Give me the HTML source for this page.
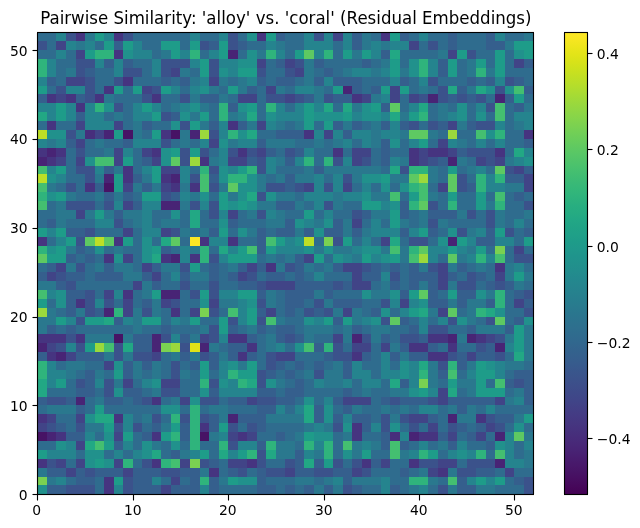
<!DOCTYPE html>
<html><head><meta charset="utf-8"><title>Pairwise Similarity: 'alloy' vs. 'coral' (Residual Embeddings)</title>
<style>
html,body{margin:0;padding:0;background:#fff;}
body{width:640px;height:528px;overflow:hidden;}
svg{display:block;}
text{font-family:'DejaVu Sans','Liberation Sans',sans-serif;font-size:13.889px;fill:#000;}
</style></head><body>
<svg width="640" height="528" viewBox="0 0 640 528" style="will-change:transform">
<defs><linearGradient id="vir" x1="0" y1="1" x2="0" y2="0"><stop offset="0.0000" stop-color="#440154"/><stop offset="0.0156" stop-color="#46075a"/><stop offset="0.0312" stop-color="#470d60"/><stop offset="0.0469" stop-color="#471365"/><stop offset="0.0625" stop-color="#48186a"/><stop offset="0.0781" stop-color="#481d6f"/><stop offset="0.0938" stop-color="#482374"/><stop offset="0.1094" stop-color="#482878"/><stop offset="0.1250" stop-color="#472d7b"/><stop offset="0.1406" stop-color="#46327e"/><stop offset="0.1562" stop-color="#453781"/><stop offset="0.1719" stop-color="#443b84"/><stop offset="0.1875" stop-color="#424086"/><stop offset="0.2031" stop-color="#404588"/><stop offset="0.2188" stop-color="#3e4989"/><stop offset="0.2344" stop-color="#3d4e8a"/><stop offset="0.2500" stop-color="#3b528b"/><stop offset="0.2656" stop-color="#39568c"/><stop offset="0.2812" stop-color="#375b8d"/><stop offset="0.2969" stop-color="#355f8d"/><stop offset="0.3125" stop-color="#33638d"/><stop offset="0.3281" stop-color="#31678e"/><stop offset="0.3438" stop-color="#2f6b8e"/><stop offset="0.3594" stop-color="#2e6f8e"/><stop offset="0.3750" stop-color="#2c728e"/><stop offset="0.3906" stop-color="#2a768e"/><stop offset="0.4062" stop-color="#297a8e"/><stop offset="0.4219" stop-color="#277e8e"/><stop offset="0.4375" stop-color="#26828e"/><stop offset="0.4531" stop-color="#25858e"/><stop offset="0.4688" stop-color="#23898e"/><stop offset="0.4844" stop-color="#228d8d"/><stop offset="0.5000" stop-color="#21918c"/><stop offset="0.5156" stop-color="#1f948c"/><stop offset="0.5312" stop-color="#1f988b"/><stop offset="0.5469" stop-color="#1e9c89"/><stop offset="0.5625" stop-color="#1fa088"/><stop offset="0.5781" stop-color="#20a386"/><stop offset="0.5938" stop-color="#22a785"/><stop offset="0.6094" stop-color="#25ab82"/><stop offset="0.6250" stop-color="#28ae80"/><stop offset="0.6406" stop-color="#2db27d"/><stop offset="0.6562" stop-color="#32b67a"/><stop offset="0.6719" stop-color="#38b977"/><stop offset="0.6875" stop-color="#3fbc73"/><stop offset="0.7031" stop-color="#46c06f"/><stop offset="0.7188" stop-color="#4ec36b"/><stop offset="0.7344" stop-color="#56c667"/><stop offset="0.7500" stop-color="#5ec962"/><stop offset="0.7656" stop-color="#67cc5c"/><stop offset="0.7812" stop-color="#70cf57"/><stop offset="0.7969" stop-color="#7ad151"/><stop offset="0.8125" stop-color="#84d44b"/><stop offset="0.8281" stop-color="#8ed645"/><stop offset="0.8438" stop-color="#98d83e"/><stop offset="0.8594" stop-color="#a2da37"/><stop offset="0.8750" stop-color="#addc30"/><stop offset="0.8906" stop-color="#b8de29"/><stop offset="0.9062" stop-color="#c2df23"/><stop offset="0.9219" stop-color="#cde11d"/><stop offset="0.9375" stop-color="#d8e219"/><stop offset="0.9531" stop-color="#e2e418"/><stop offset="0.9688" stop-color="#ece51b"/><stop offset="0.9844" stop-color="#f6e620"/><stop offset="1.0000" stop-color="#fde725"/></linearGradient></defs>
<rect x="0" y="0" width="640" height="528" fill="#fff"/>
<g shape-rendering="crispEdges">
<rect x="38" y="33" width="18" height="8" fill="#2f6c8e"/>
<rect x="56" y="33" width="10" height="8" fill="#25848e"/>
<rect x="66" y="33" width="10" height="8" fill="#3b528b"/>
<rect x="76" y="33" width="9" height="8" fill="#463480"/>
<rect x="85" y="33" width="10" height="8" fill="#2a788e"/>
<rect x="95" y="33" width="9" height="8" fill="#1e9c89"/>
<rect x="104" y="33" width="10" height="8" fill="#25848e"/>
<rect x="114" y="33" width="9" height="8" fill="#463480"/>
<rect x="123" y="33" width="10" height="8" fill="#3b528b"/>
<rect x="133" y="33" width="57" height="8" fill="#2f6c8e"/>
<rect x="190" y="33" width="10" height="8" fill="#25848e"/>
<rect x="200" y="33" width="19" height="8" fill="#2f6c8e"/>
<rect x="219" y="33" width="9" height="8" fill="#25848e"/>
<rect x="228" y="33" width="10" height="8" fill="#3b528b"/>
<rect x="238" y="33" width="9" height="8" fill="#2f6c8e"/>
<rect x="247" y="33" width="10" height="8" fill="#21918c"/>
<rect x="257" y="33" width="9" height="8" fill="#463480"/>
<rect x="266" y="33" width="10" height="8" fill="#1e9c89"/>
<rect x="276" y="33" width="9" height="8" fill="#355f8d"/>
<rect x="285" y="33" width="19" height="8" fill="#2f6c8e"/>
<rect x="304" y="33" width="10" height="8" fill="#25848e"/>
<rect x="314" y="33" width="10" height="8" fill="#3b528b"/>
<rect x="324" y="33" width="9" height="8" fill="#25848e"/>
<rect x="333" y="33" width="10" height="8" fill="#414487"/>
<rect x="343" y="33" width="9" height="8" fill="#25848e"/>
<rect x="352" y="33" width="10" height="8" fill="#355f8d"/>
<rect x="362" y="33" width="9" height="8" fill="#2a788e"/>
<rect x="371" y="33" width="10" height="8" fill="#2f6c8e"/>
<rect x="381" y="33" width="9" height="8" fill="#463480"/>
<rect x="390" y="33" width="10" height="8" fill="#1e9c89"/>
<rect x="400" y="33" width="9" height="8" fill="#355f8d"/>
<rect x="409" y="33" width="10" height="8" fill="#2f6c8e"/>
<rect x="419" y="33" width="9" height="8" fill="#25848e"/>
<rect x="428" y="33" width="20" height="8" fill="#2f6c8e"/>
<rect x="448" y="33" width="9" height="8" fill="#355f8d"/>
<rect x="457" y="33" width="29" height="8" fill="#2f6c8e"/>
<rect x="486" y="33" width="9" height="8" fill="#355f8d"/>
<rect x="495" y="33" width="10" height="8" fill="#25848e"/>
<rect x="505" y="33" width="19" height="8" fill="#2f6c8e"/>
<rect x="524" y="33" width="9" height="8" fill="#2a788e"/>
<rect x="38" y="41" width="9" height="9" fill="#3b528b"/>
<rect x="47" y="41" width="9" height="9" fill="#2f6c8e"/>
<rect x="56" y="41" width="10" height="9" fill="#414487"/>
<rect x="66" y="41" width="10" height="9" fill="#25848e"/>
<rect x="76" y="41" width="9" height="9" fill="#2a788e"/>
<rect x="85" y="41" width="10" height="9" fill="#25848e"/>
<rect x="95" y="41" width="9" height="9" fill="#2f6c8e"/>
<rect x="104" y="41" width="10" height="9" fill="#1e9c89"/>
<rect x="114" y="41" width="9" height="9" fill="#355f8d"/>
<rect x="123" y="41" width="10" height="9" fill="#1e9c89"/>
<rect x="133" y="41" width="9" height="9" fill="#25848e"/>
<rect x="142" y="41" width="19" height="9" fill="#2f6c8e"/>
<rect x="161" y="41" width="19" height="9" fill="#1e9c89"/>
<rect x="180" y="41" width="10" height="9" fill="#2f6c8e"/>
<rect x="190" y="41" width="10" height="9" fill="#1e9c89"/>
<rect x="200" y="41" width="9" height="9" fill="#3b528b"/>
<rect x="209" y="41" width="10" height="9" fill="#355f8d"/>
<rect x="219" y="41" width="9" height="9" fill="#1e9c89"/>
<rect x="228" y="41" width="10" height="9" fill="#3b528b"/>
<rect x="238" y="41" width="9" height="9" fill="#355f8d"/>
<rect x="247" y="41" width="19" height="9" fill="#2f6c8e"/>
<rect x="266" y="41" width="10" height="9" fill="#25848e"/>
<rect x="276" y="41" width="9" height="9" fill="#2a788e"/>
<rect x="285" y="41" width="19" height="9" fill="#2f6c8e"/>
<rect x="304" y="41" width="29" height="9" fill="#25848e"/>
<rect x="333" y="41" width="10" height="9" fill="#2f6c8e"/>
<rect x="343" y="41" width="9" height="9" fill="#25848e"/>
<rect x="352" y="41" width="10" height="9" fill="#355f8d"/>
<rect x="362" y="41" width="9" height="9" fill="#2a788e"/>
<rect x="371" y="41" width="10" height="9" fill="#25848e"/>
<rect x="381" y="41" width="9" height="9" fill="#2a788e"/>
<rect x="390" y="41" width="19" height="9" fill="#25848e"/>
<rect x="409" y="41" width="10" height="9" fill="#414487"/>
<rect x="419" y="41" width="9" height="9" fill="#2f6c8e"/>
<rect x="428" y="41" width="10" height="9" fill="#3b528b"/>
<rect x="438" y="41" width="10" height="9" fill="#2f6c8e"/>
<rect x="448" y="41" width="9" height="9" fill="#355f8d"/>
<rect x="457" y="41" width="29" height="9" fill="#2f6c8e"/>
<rect x="486" y="41" width="19" height="9" fill="#355f8d"/>
<rect x="505" y="41" width="9" height="9" fill="#2a788e"/>
<rect x="514" y="41" width="19" height="9" fill="#1e9c89"/>
<rect x="38" y="50" width="18" height="9" fill="#2f6c8e"/>
<rect x="56" y="50" width="10" height="9" fill="#25848e"/>
<rect x="66" y="50" width="10" height="9" fill="#2f6c8e"/>
<rect x="76" y="50" width="9" height="9" fill="#414487"/>
<rect x="85" y="50" width="10" height="9" fill="#1e9c89"/>
<rect x="95" y="50" width="19" height="9" fill="#2fb47c"/>
<rect x="114" y="50" width="9" height="9" fill="#463480"/>
<rect x="123" y="50" width="10" height="9" fill="#21918c"/>
<rect x="133" y="50" width="19" height="9" fill="#25848e"/>
<rect x="152" y="50" width="9" height="9" fill="#2f6c8e"/>
<rect x="161" y="50" width="10" height="9" fill="#2a788e"/>
<rect x="171" y="50" width="9" height="9" fill="#1e9c89"/>
<rect x="180" y="50" width="10" height="9" fill="#25848e"/>
<rect x="190" y="50" width="10" height="9" fill="#2fb47c"/>
<rect x="200" y="50" width="9" height="9" fill="#2f6c8e"/>
<rect x="209" y="50" width="10" height="9" fill="#25848e"/>
<rect x="219" y="50" width="9" height="9" fill="#1e9c89"/>
<rect x="228" y="50" width="10" height="9" fill="#482475"/>
<rect x="238" y="50" width="9" height="9" fill="#2f6c8e"/>
<rect x="247" y="50" width="10" height="9" fill="#21918c"/>
<rect x="257" y="50" width="9" height="9" fill="#2a788e"/>
<rect x="266" y="50" width="10" height="9" fill="#2fb47c"/>
<rect x="276" y="50" width="9" height="9" fill="#25848e"/>
<rect x="285" y="50" width="10" height="9" fill="#2f6c8e"/>
<rect x="295" y="50" width="9" height="9" fill="#1e9c89"/>
<rect x="304" y="50" width="10" height="9" fill="#5ec962"/>
<rect x="314" y="50" width="10" height="9" fill="#25848e"/>
<rect x="324" y="50" width="9" height="9" fill="#2fb47c"/>
<rect x="333" y="50" width="10" height="9" fill="#2f6c8e"/>
<rect x="343" y="50" width="9" height="9" fill="#1e9c89"/>
<rect x="352" y="50" width="10" height="9" fill="#2a788e"/>
<rect x="362" y="50" width="9" height="9" fill="#1e9c89"/>
<rect x="371" y="50" width="10" height="9" fill="#25848e"/>
<rect x="381" y="50" width="9" height="9" fill="#355f8d"/>
<rect x="390" y="50" width="10" height="9" fill="#22a884"/>
<rect x="400" y="50" width="38" height="9" fill="#2f6c8e"/>
<rect x="438" y="50" width="10" height="9" fill="#2a788e"/>
<rect x="448" y="50" width="9" height="9" fill="#414487"/>
<rect x="457" y="50" width="10" height="9" fill="#1e9c89"/>
<rect x="467" y="50" width="9" height="9" fill="#3b528b"/>
<rect x="476" y="50" width="19" height="9" fill="#2f6c8e"/>
<rect x="495" y="50" width="10" height="9" fill="#1e9c89"/>
<rect x="505" y="50" width="9" height="9" fill="#2f6c8e"/>
<rect x="514" y="50" width="10" height="9" fill="#21918c"/>
<rect x="524" y="50" width="9" height="9" fill="#1e9c89"/>
<rect x="38" y="59" width="9" height="9" fill="#2fb47c"/>
<rect x="47" y="59" width="9" height="9" fill="#25848e"/>
<rect x="56" y="59" width="20" height="9" fill="#2f6c8e"/>
<rect x="76" y="59" width="19" height="9" fill="#3b528b"/>
<rect x="95" y="59" width="9" height="9" fill="#25848e"/>
<rect x="104" y="59" width="10" height="9" fill="#355f8d"/>
<rect x="114" y="59" width="9" height="9" fill="#25848e"/>
<rect x="123" y="59" width="10" height="9" fill="#355f8d"/>
<rect x="133" y="59" width="19" height="9" fill="#2f6c8e"/>
<rect x="152" y="59" width="9" height="9" fill="#25848e"/>
<rect x="161" y="59" width="29" height="9" fill="#3b528b"/>
<rect x="190" y="59" width="10" height="9" fill="#25848e"/>
<rect x="200" y="59" width="9" height="9" fill="#1e9c89"/>
<rect x="209" y="59" width="10" height="9" fill="#3b528b"/>
<rect x="219" y="59" width="19" height="9" fill="#25848e"/>
<rect x="238" y="59" width="19" height="9" fill="#21918c"/>
<rect x="257" y="59" width="9" height="9" fill="#414487"/>
<rect x="266" y="59" width="10" height="9" fill="#2f6c8e"/>
<rect x="276" y="59" width="9" height="9" fill="#355f8d"/>
<rect x="285" y="59" width="10" height="9" fill="#414487"/>
<rect x="295" y="59" width="9" height="9" fill="#3b528b"/>
<rect x="304" y="59" width="10" height="9" fill="#2a788e"/>
<rect x="314" y="59" width="10" height="9" fill="#355f8d"/>
<rect x="324" y="59" width="38" height="9" fill="#2f6c8e"/>
<rect x="362" y="59" width="9" height="9" fill="#355f8d"/>
<rect x="371" y="59" width="10" height="9" fill="#2f6c8e"/>
<rect x="381" y="59" width="9" height="9" fill="#2a788e"/>
<rect x="390" y="59" width="10" height="9" fill="#1e9c89"/>
<rect x="400" y="59" width="9" height="9" fill="#2f6c8e"/>
<rect x="409" y="59" width="10" height="9" fill="#21918c"/>
<rect x="419" y="59" width="9" height="9" fill="#2fb47c"/>
<rect x="428" y="59" width="10" height="9" fill="#25848e"/>
<rect x="438" y="59" width="10" height="9" fill="#355f8d"/>
<rect x="448" y="59" width="9" height="9" fill="#1e9c89"/>
<rect x="457" y="59" width="10" height="9" fill="#2f6c8e"/>
<rect x="467" y="59" width="9" height="9" fill="#2a788e"/>
<rect x="476" y="59" width="10" height="9" fill="#1e9c89"/>
<rect x="486" y="59" width="9" height="9" fill="#2f6c8e"/>
<rect x="495" y="59" width="10" height="9" fill="#1e9c89"/>
<rect x="505" y="59" width="9" height="9" fill="#2f6c8e"/>
<rect x="514" y="59" width="10" height="9" fill="#414487"/>
<rect x="524" y="59" width="9" height="9" fill="#355f8d"/>
<rect x="38" y="68" width="9" height="9" fill="#2fb47c"/>
<rect x="47" y="68" width="9" height="9" fill="#25848e"/>
<rect x="56" y="68" width="10" height="9" fill="#2f6c8e"/>
<rect x="66" y="68" width="10" height="9" fill="#2a788e"/>
<rect x="76" y="68" width="9" height="9" fill="#3b528b"/>
<rect x="85" y="68" width="10" height="9" fill="#355f8d"/>
<rect x="95" y="68" width="19" height="9" fill="#2f6c8e"/>
<rect x="114" y="68" width="9" height="9" fill="#25848e"/>
<rect x="123" y="68" width="19" height="9" fill="#3b528b"/>
<rect x="142" y="68" width="10" height="9" fill="#2f6c8e"/>
<rect x="152" y="68" width="9" height="9" fill="#25848e"/>
<rect x="161" y="68" width="10" height="9" fill="#3b528b"/>
<rect x="171" y="68" width="9" height="9" fill="#414487"/>
<rect x="180" y="68" width="10" height="9" fill="#2a788e"/>
<rect x="190" y="68" width="10" height="9" fill="#2f6c8e"/>
<rect x="200" y="68" width="9" height="9" fill="#1e9c89"/>
<rect x="209" y="68" width="10" height="9" fill="#3b528b"/>
<rect x="219" y="68" width="9" height="9" fill="#21918c"/>
<rect x="228" y="68" width="10" height="9" fill="#25848e"/>
<rect x="238" y="68" width="19" height="9" fill="#1e9c89"/>
<rect x="257" y="68" width="9" height="9" fill="#3b528b"/>
<rect x="266" y="68" width="19" height="9" fill="#2f6c8e"/>
<rect x="285" y="68" width="10" height="9" fill="#3b528b"/>
<rect x="295" y="68" width="9" height="9" fill="#414487"/>
<rect x="304" y="68" width="10" height="9" fill="#2a788e"/>
<rect x="314" y="68" width="10" height="9" fill="#2f6c8e"/>
<rect x="324" y="68" width="9" height="9" fill="#355f8d"/>
<rect x="333" y="68" width="10" height="9" fill="#2f6c8e"/>
<rect x="343" y="68" width="9" height="9" fill="#2a788e"/>
<rect x="352" y="68" width="19" height="9" fill="#25848e"/>
<rect x="371" y="68" width="10" height="9" fill="#2a788e"/>
<rect x="381" y="68" width="9" height="9" fill="#25848e"/>
<rect x="390" y="68" width="10" height="9" fill="#1e9c89"/>
<rect x="400" y="68" width="9" height="9" fill="#2a788e"/>
<rect x="409" y="68" width="10" height="9" fill="#21918c"/>
<rect x="419" y="68" width="9" height="9" fill="#2fb47c"/>
<rect x="428" y="68" width="10" height="9" fill="#25848e"/>
<rect x="438" y="68" width="10" height="9" fill="#355f8d"/>
<rect x="448" y="68" width="9" height="9" fill="#1e9c89"/>
<rect x="457" y="68" width="10" height="9" fill="#2f6c8e"/>
<rect x="467" y="68" width="9" height="9" fill="#2a788e"/>
<rect x="476" y="68" width="10" height="9" fill="#2fb47c"/>
<rect x="486" y="68" width="9" height="9" fill="#2a788e"/>
<rect x="495" y="68" width="10" height="9" fill="#1e9c89"/>
<rect x="505" y="68" width="28" height="9" fill="#2f6c8e"/>
<rect x="38" y="77" width="9" height="9" fill="#25848e"/>
<rect x="47" y="77" width="9" height="9" fill="#355f8d"/>
<rect x="56" y="77" width="10" height="9" fill="#2f6c8e"/>
<rect x="66" y="77" width="19" height="9" fill="#414487"/>
<rect x="85" y="77" width="10" height="9" fill="#3b528b"/>
<rect x="95" y="77" width="19" height="9" fill="#2f6c8e"/>
<rect x="114" y="77" width="9" height="9" fill="#3b528b"/>
<rect x="123" y="77" width="10" height="9" fill="#463480"/>
<rect x="133" y="77" width="28" height="9" fill="#2f6c8e"/>
<rect x="161" y="77" width="10" height="9" fill="#355f8d"/>
<rect x="171" y="77" width="9" height="9" fill="#2f6c8e"/>
<rect x="180" y="77" width="10" height="9" fill="#355f8d"/>
<rect x="190" y="77" width="10" height="9" fill="#2a788e"/>
<rect x="200" y="77" width="9" height="9" fill="#25848e"/>
<rect x="209" y="77" width="10" height="9" fill="#414487"/>
<rect x="219" y="77" width="9" height="9" fill="#2a788e"/>
<rect x="228" y="77" width="10" height="9" fill="#2f6c8e"/>
<rect x="238" y="77" width="9" height="9" fill="#2a788e"/>
<rect x="247" y="77" width="10" height="9" fill="#25848e"/>
<rect x="257" y="77" width="9" height="9" fill="#355f8d"/>
<rect x="266" y="77" width="10" height="9" fill="#2f6c8e"/>
<rect x="276" y="77" width="19" height="9" fill="#355f8d"/>
<rect x="295" y="77" width="9" height="9" fill="#2f6c8e"/>
<rect x="304" y="77" width="10" height="9" fill="#2a788e"/>
<rect x="314" y="77" width="10" height="9" fill="#355f8d"/>
<rect x="324" y="77" width="9" height="9" fill="#25848e"/>
<rect x="333" y="77" width="29" height="9" fill="#355f8d"/>
<rect x="362" y="77" width="28" height="9" fill="#2f6c8e"/>
<rect x="390" y="77" width="10" height="9" fill="#25848e"/>
<rect x="400" y="77" width="9" height="9" fill="#355f8d"/>
<rect x="409" y="77" width="10" height="9" fill="#2f6c8e"/>
<rect x="419" y="77" width="9" height="9" fill="#25848e"/>
<rect x="428" y="77" width="10" height="9" fill="#3b528b"/>
<rect x="438" y="77" width="29" height="9" fill="#2f6c8e"/>
<rect x="467" y="77" width="9" height="9" fill="#355f8d"/>
<rect x="476" y="77" width="10" height="9" fill="#2f6c8e"/>
<rect x="486" y="77" width="9" height="9" fill="#355f8d"/>
<rect x="495" y="77" width="10" height="9" fill="#25848e"/>
<rect x="505" y="77" width="9" height="9" fill="#3b528b"/>
<rect x="514" y="77" width="10" height="9" fill="#355f8d"/>
<rect x="524" y="77" width="9" height="9" fill="#2f6c8e"/>
<rect x="38" y="86" width="9" height="8" fill="#1e9c89"/>
<rect x="47" y="86" width="9" height="8" fill="#2f6c8e"/>
<rect x="56" y="86" width="10" height="8" fill="#3b528b"/>
<rect x="66" y="86" width="19" height="8" fill="#25848e"/>
<rect x="85" y="86" width="10" height="8" fill="#3b528b"/>
<rect x="95" y="86" width="9" height="8" fill="#2f6c8e"/>
<rect x="104" y="86" width="10" height="8" fill="#463480"/>
<rect x="114" y="86" width="9" height="8" fill="#1e9c89"/>
<rect x="123" y="86" width="10" height="8" fill="#2f6c8e"/>
<rect x="133" y="86" width="9" height="8" fill="#1e9c89"/>
<rect x="142" y="86" width="10" height="8" fill="#414487"/>
<rect x="152" y="86" width="9" height="8" fill="#3b528b"/>
<rect x="161" y="86" width="10" height="8" fill="#1e9c89"/>
<rect x="171" y="86" width="9" height="8" fill="#25848e"/>
<rect x="180" y="86" width="10" height="8" fill="#2f6c8e"/>
<rect x="190" y="86" width="10" height="8" fill="#25848e"/>
<rect x="200" y="86" width="9" height="8" fill="#21918c"/>
<rect x="209" y="86" width="10" height="8" fill="#2a788e"/>
<rect x="219" y="86" width="9" height="8" fill="#2f6c8e"/>
<rect x="228" y="86" width="10" height="8" fill="#1e9c89"/>
<rect x="238" y="86" width="9" height="8" fill="#2a788e"/>
<rect x="247" y="86" width="10" height="8" fill="#355f8d"/>
<rect x="257" y="86" width="9" height="8" fill="#2f6c8e"/>
<rect x="266" y="86" width="10" height="8" fill="#414487"/>
<rect x="276" y="86" width="9" height="8" fill="#2a788e"/>
<rect x="285" y="86" width="10" height="8" fill="#2f6c8e"/>
<rect x="295" y="86" width="19" height="8" fill="#25848e"/>
<rect x="314" y="86" width="10" height="8" fill="#2a788e"/>
<rect x="324" y="86" width="9" height="8" fill="#2f6c8e"/>
<rect x="333" y="86" width="10" height="8" fill="#1e9c89"/>
<rect x="343" y="86" width="9" height="8" fill="#482475"/>
<rect x="352" y="86" width="10" height="8" fill="#355f8d"/>
<rect x="362" y="86" width="9" height="8" fill="#2f6c8e"/>
<rect x="371" y="86" width="10" height="8" fill="#355f8d"/>
<rect x="381" y="86" width="9" height="8" fill="#1e9c89"/>
<rect x="390" y="86" width="10" height="8" fill="#414487"/>
<rect x="400" y="86" width="9" height="8" fill="#1e9c89"/>
<rect x="409" y="86" width="10" height="8" fill="#2f6c8e"/>
<rect x="419" y="86" width="9" height="8" fill="#2a788e"/>
<rect x="428" y="86" width="10" height="8" fill="#2f6c8e"/>
<rect x="438" y="86" width="10" height="8" fill="#3b528b"/>
<rect x="448" y="86" width="9" height="8" fill="#22a884"/>
<rect x="457" y="86" width="10" height="8" fill="#355f8d"/>
<rect x="467" y="86" width="9" height="8" fill="#2a788e"/>
<rect x="476" y="86" width="10" height="8" fill="#22a884"/>
<rect x="486" y="86" width="9" height="8" fill="#21918c"/>
<rect x="495" y="86" width="10" height="8" fill="#3b528b"/>
<rect x="505" y="86" width="9" height="8" fill="#21918c"/>
<rect x="514" y="86" width="10" height="8" fill="#44bf70"/>
<rect x="524" y="86" width="9" height="8" fill="#355f8d"/>
<rect x="38" y="94" width="9" height="9" fill="#355f8d"/>
<rect x="47" y="94" width="9" height="9" fill="#463480"/>
<rect x="56" y="94" width="10" height="9" fill="#414487"/>
<rect x="66" y="94" width="10" height="9" fill="#463480"/>
<rect x="76" y="94" width="9" height="9" fill="#355f8d"/>
<rect x="85" y="94" width="10" height="9" fill="#3b528b"/>
<rect x="95" y="94" width="9" height="9" fill="#463480"/>
<rect x="104" y="94" width="10" height="9" fill="#2a788e"/>
<rect x="114" y="94" width="28" height="9" fill="#2f6c8e"/>
<rect x="142" y="94" width="10" height="9" fill="#3b528b"/>
<rect x="152" y="94" width="9" height="9" fill="#463480"/>
<rect x="161" y="94" width="19" height="9" fill="#2f6c8e"/>
<rect x="180" y="94" width="10" height="9" fill="#3b528b"/>
<rect x="190" y="94" width="10" height="9" fill="#2a788e"/>
<rect x="200" y="94" width="19" height="9" fill="#355f8d"/>
<rect x="219" y="94" width="9" height="9" fill="#2a788e"/>
<rect x="228" y="94" width="10" height="9" fill="#2f6c8e"/>
<rect x="238" y="94" width="19" height="9" fill="#414487"/>
<rect x="257" y="94" width="9" height="9" fill="#2f6c8e"/>
<rect x="266" y="94" width="19" height="9" fill="#3b528b"/>
<rect x="285" y="94" width="10" height="9" fill="#414487"/>
<rect x="295" y="94" width="9" height="9" fill="#3b528b"/>
<rect x="304" y="94" width="10" height="9" fill="#355f8d"/>
<rect x="314" y="94" width="10" height="9" fill="#2a788e"/>
<rect x="324" y="94" width="9" height="9" fill="#3b528b"/>
<rect x="333" y="94" width="19" height="9" fill="#355f8d"/>
<rect x="352" y="94" width="10" height="9" fill="#463480"/>
<rect x="362" y="94" width="9" height="9" fill="#414487"/>
<rect x="371" y="94" width="10" height="9" fill="#2a788e"/>
<rect x="381" y="94" width="9" height="9" fill="#25848e"/>
<rect x="390" y="94" width="10" height="9" fill="#414487"/>
<rect x="400" y="94" width="9" height="9" fill="#2f6c8e"/>
<rect x="409" y="94" width="10" height="9" fill="#414487"/>
<rect x="419" y="94" width="9" height="9" fill="#3b528b"/>
<rect x="428" y="94" width="10" height="9" fill="#482475"/>
<rect x="438" y="94" width="10" height="9" fill="#3b528b"/>
<rect x="448" y="94" width="9" height="9" fill="#355f8d"/>
<rect x="457" y="94" width="10" height="9" fill="#3b528b"/>
<rect x="467" y="94" width="9" height="9" fill="#355f8d"/>
<rect x="476" y="94" width="10" height="9" fill="#3b528b"/>
<rect x="486" y="94" width="9" height="9" fill="#2f6c8e"/>
<rect x="495" y="94" width="10" height="9" fill="#482475"/>
<rect x="505" y="94" width="9" height="9" fill="#355f8d"/>
<rect x="514" y="94" width="10" height="9" fill="#1e9c89"/>
<rect x="524" y="94" width="9" height="9" fill="#2f6c8e"/>
<rect x="38" y="103" width="18" height="9" fill="#25848e"/>
<rect x="56" y="103" width="10" height="9" fill="#1e9c89"/>
<rect x="66" y="103" width="10" height="9" fill="#25848e"/>
<rect x="76" y="103" width="9" height="9" fill="#463480"/>
<rect x="85" y="103" width="10" height="9" fill="#25848e"/>
<rect x="95" y="103" width="9" height="9" fill="#2fb47c"/>
<rect x="104" y="103" width="10" height="9" fill="#21918c"/>
<rect x="114" y="103" width="9" height="9" fill="#3b528b"/>
<rect x="123" y="103" width="10" height="9" fill="#2f6c8e"/>
<rect x="133" y="103" width="9" height="9" fill="#25848e"/>
<rect x="142" y="103" width="10" height="9" fill="#1e9c89"/>
<rect x="152" y="103" width="9" height="9" fill="#25848e"/>
<rect x="161" y="103" width="10" height="9" fill="#2f6c8e"/>
<rect x="171" y="103" width="9" height="9" fill="#2a788e"/>
<rect x="180" y="103" width="10" height="9" fill="#25848e"/>
<rect x="190" y="103" width="10" height="9" fill="#21918c"/>
<rect x="200" y="103" width="9" height="9" fill="#2a788e"/>
<rect x="209" y="103" width="10" height="9" fill="#2f6c8e"/>
<rect x="219" y="103" width="9" height="9" fill="#2fb47c"/>
<rect x="228" y="103" width="10" height="9" fill="#355f8d"/>
<rect x="238" y="103" width="9" height="9" fill="#21918c"/>
<rect x="247" y="103" width="10" height="9" fill="#1e9c89"/>
<rect x="257" y="103" width="9" height="9" fill="#2f6c8e"/>
<rect x="266" y="103" width="10" height="9" fill="#2fb47c"/>
<rect x="276" y="103" width="9" height="9" fill="#25848e"/>
<rect x="285" y="103" width="10" height="9" fill="#2f6c8e"/>
<rect x="295" y="103" width="9" height="9" fill="#25848e"/>
<rect x="304" y="103" width="10" height="9" fill="#1e9c89"/>
<rect x="314" y="103" width="10" height="9" fill="#25848e"/>
<rect x="324" y="103" width="9" height="9" fill="#22a884"/>
<rect x="333" y="103" width="10" height="9" fill="#2f6c8e"/>
<rect x="343" y="103" width="9" height="9" fill="#22a884"/>
<rect x="352" y="103" width="10" height="9" fill="#2a788e"/>
<rect x="362" y="103" width="9" height="9" fill="#21918c"/>
<rect x="371" y="103" width="10" height="9" fill="#1e9c89"/>
<rect x="381" y="103" width="9" height="9" fill="#355f8d"/>
<rect x="390" y="103" width="10" height="9" fill="#5ec962"/>
<rect x="400" y="103" width="9" height="9" fill="#2f6c8e"/>
<rect x="409" y="103" width="10" height="9" fill="#25848e"/>
<rect x="419" y="103" width="9" height="9" fill="#22a884"/>
<rect x="428" y="103" width="10" height="9" fill="#2f6c8e"/>
<rect x="438" y="103" width="10" height="9" fill="#2a788e"/>
<rect x="448" y="103" width="9" height="9" fill="#2f6c8e"/>
<rect x="457" y="103" width="10" height="9" fill="#21918c"/>
<rect x="467" y="103" width="9" height="9" fill="#2f6c8e"/>
<rect x="476" y="103" width="10" height="9" fill="#25848e"/>
<rect x="486" y="103" width="9" height="9" fill="#3b528b"/>
<rect x="495" y="103" width="10" height="9" fill="#44bf70"/>
<rect x="505" y="103" width="9" height="9" fill="#2f6c8e"/>
<rect x="514" y="103" width="10" height="9" fill="#355f8d"/>
<rect x="524" y="103" width="9" height="9" fill="#2a788e"/>
<rect x="38" y="112" width="9" height="9" fill="#22a884"/>
<rect x="47" y="112" width="9" height="9" fill="#25848e"/>
<rect x="56" y="112" width="10" height="9" fill="#1e9c89"/>
<rect x="66" y="112" width="10" height="9" fill="#25848e"/>
<rect x="76" y="112" width="9" height="9" fill="#355f8d"/>
<rect x="85" y="112" width="19" height="9" fill="#25848e"/>
<rect x="104" y="112" width="10" height="9" fill="#2f6c8e"/>
<rect x="114" y="112" width="9" height="9" fill="#2a788e"/>
<rect x="123" y="112" width="10" height="9" fill="#2f6c8e"/>
<rect x="133" y="112" width="19" height="9" fill="#25848e"/>
<rect x="152" y="112" width="9" height="9" fill="#1e9c89"/>
<rect x="161" y="112" width="10" height="9" fill="#3b528b"/>
<rect x="171" y="112" width="9" height="9" fill="#355f8d"/>
<rect x="180" y="112" width="10" height="9" fill="#21918c"/>
<rect x="190" y="112" width="10" height="9" fill="#2a788e"/>
<rect x="200" y="112" width="9" height="9" fill="#1e9c89"/>
<rect x="209" y="112" width="10" height="9" fill="#2f6c8e"/>
<rect x="219" y="112" width="9" height="9" fill="#2fb47c"/>
<rect x="228" y="112" width="10" height="9" fill="#2a788e"/>
<rect x="238" y="112" width="9" height="9" fill="#25848e"/>
<rect x="247" y="112" width="10" height="9" fill="#22a884"/>
<rect x="257" y="112" width="9" height="9" fill="#2f6c8e"/>
<rect x="266" y="112" width="10" height="9" fill="#21918c"/>
<rect x="276" y="112" width="28" height="9" fill="#25848e"/>
<rect x="304" y="112" width="10" height="9" fill="#1e9c89"/>
<rect x="314" y="112" width="29" height="9" fill="#21918c"/>
<rect x="343" y="112" width="9" height="9" fill="#1e9c89"/>
<rect x="352" y="112" width="10" height="9" fill="#25848e"/>
<rect x="362" y="112" width="19" height="9" fill="#21918c"/>
<rect x="381" y="112" width="9" height="9" fill="#25848e"/>
<rect x="390" y="112" width="10" height="9" fill="#22a884"/>
<rect x="400" y="112" width="9" height="9" fill="#2a788e"/>
<rect x="409" y="112" width="10" height="9" fill="#1e9c89"/>
<rect x="419" y="112" width="9" height="9" fill="#2fb47c"/>
<rect x="428" y="112" width="10" height="9" fill="#2f6c8e"/>
<rect x="438" y="112" width="10" height="9" fill="#2a788e"/>
<rect x="448" y="112" width="9" height="9" fill="#25848e"/>
<rect x="457" y="112" width="10" height="9" fill="#21918c"/>
<rect x="467" y="112" width="9" height="9" fill="#2f6c8e"/>
<rect x="476" y="112" width="10" height="9" fill="#21918c"/>
<rect x="486" y="112" width="9" height="9" fill="#2f6c8e"/>
<rect x="495" y="112" width="10" height="9" fill="#44bf70"/>
<rect x="505" y="112" width="9" height="9" fill="#2f6c8e"/>
<rect x="514" y="112" width="19" height="9" fill="#25848e"/>
<rect x="38" y="121" width="9" height="9" fill="#2f6c8e"/>
<rect x="47" y="121" width="9" height="9" fill="#463480"/>
<rect x="56" y="121" width="20" height="9" fill="#2f6c8e"/>
<rect x="76" y="121" width="9" height="9" fill="#414487"/>
<rect x="85" y="121" width="29" height="9" fill="#25848e"/>
<rect x="114" y="121" width="9" height="9" fill="#414487"/>
<rect x="123" y="121" width="10" height="9" fill="#2f6c8e"/>
<rect x="133" y="121" width="9" height="9" fill="#2a788e"/>
<rect x="142" y="121" width="10" height="9" fill="#355f8d"/>
<rect x="152" y="121" width="19" height="9" fill="#2f6c8e"/>
<rect x="171" y="121" width="9" height="9" fill="#21918c"/>
<rect x="180" y="121" width="10" height="9" fill="#3b528b"/>
<rect x="190" y="121" width="10" height="9" fill="#1e9c89"/>
<rect x="200" y="121" width="9" height="9" fill="#2a788e"/>
<rect x="209" y="121" width="10" height="9" fill="#355f8d"/>
<rect x="219" y="121" width="9" height="9" fill="#25848e"/>
<rect x="228" y="121" width="10" height="9" fill="#463480"/>
<rect x="238" y="121" width="9" height="9" fill="#355f8d"/>
<rect x="247" y="121" width="10" height="9" fill="#2a788e"/>
<rect x="257" y="121" width="9" height="9" fill="#414487"/>
<rect x="266" y="121" width="10" height="9" fill="#25848e"/>
<rect x="276" y="121" width="9" height="9" fill="#2a788e"/>
<rect x="285" y="121" width="10" height="9" fill="#2f6c8e"/>
<rect x="295" y="121" width="9" height="9" fill="#2a788e"/>
<rect x="304" y="121" width="10" height="9" fill="#1e9c89"/>
<rect x="314" y="121" width="10" height="9" fill="#2f6c8e"/>
<rect x="324" y="121" width="9" height="9" fill="#1e9c89"/>
<rect x="333" y="121" width="10" height="9" fill="#355f8d"/>
<rect x="343" y="121" width="9" height="9" fill="#2a788e"/>
<rect x="352" y="121" width="10" height="9" fill="#355f8d"/>
<rect x="362" y="121" width="9" height="9" fill="#2f6c8e"/>
<rect x="371" y="121" width="10" height="9" fill="#2a788e"/>
<rect x="381" y="121" width="9" height="9" fill="#355f8d"/>
<rect x="390" y="121" width="10" height="9" fill="#25848e"/>
<rect x="400" y="121" width="9" height="9" fill="#355f8d"/>
<rect x="409" y="121" width="10" height="9" fill="#3b528b"/>
<rect x="419" y="121" width="9" height="9" fill="#2f6c8e"/>
<rect x="428" y="121" width="10" height="9" fill="#3b528b"/>
<rect x="438" y="121" width="10" height="9" fill="#355f8d"/>
<rect x="448" y="121" width="9" height="9" fill="#414487"/>
<rect x="457" y="121" width="10" height="9" fill="#2a788e"/>
<rect x="467" y="121" width="9" height="9" fill="#355f8d"/>
<rect x="476" y="121" width="19" height="9" fill="#3b528b"/>
<rect x="495" y="121" width="10" height="9" fill="#25848e"/>
<rect x="505" y="121" width="9" height="9" fill="#2f6c8e"/>
<rect x="514" y="121" width="10" height="9" fill="#2a788e"/>
<rect x="524" y="121" width="9" height="9" fill="#25848e"/>
<rect x="38" y="130" width="9" height="9" fill="#bddf26"/>
<rect x="47" y="130" width="19" height="9" fill="#21918c"/>
<rect x="66" y="130" width="10" height="9" fill="#3b528b"/>
<rect x="76" y="130" width="9" height="9" fill="#2a788e"/>
<rect x="85" y="130" width="10" height="9" fill="#472e7c"/>
<rect x="95" y="130" width="9" height="9" fill="#414487"/>
<rect x="104" y="130" width="10" height="9" fill="#482475"/>
<rect x="114" y="130" width="9" height="9" fill="#1e9c89"/>
<rect x="123" y="130" width="10" height="9" fill="#471365"/>
<rect x="133" y="130" width="9" height="9" fill="#2a788e"/>
<rect x="142" y="130" width="10" height="9" fill="#2f6c8e"/>
<rect x="152" y="130" width="9" height="9" fill="#1e9c89"/>
<rect x="161" y="130" width="10" height="9" fill="#463480"/>
<rect x="171" y="130" width="9" height="9" fill="#471365"/>
<rect x="180" y="130" width="10" height="9" fill="#2a788e"/>
<rect x="190" y="130" width="10" height="9" fill="#482475"/>
<rect x="200" y="130" width="9" height="9" fill="#9bd93c"/>
<rect x="209" y="130" width="10" height="9" fill="#3b528b"/>
<rect x="219" y="130" width="9" height="9" fill="#25848e"/>
<rect x="228" y="130" width="10" height="9" fill="#2fb47c"/>
<rect x="238" y="130" width="9" height="9" fill="#21918c"/>
<rect x="247" y="130" width="10" height="9" fill="#22a884"/>
<rect x="257" y="130" width="19" height="9" fill="#2f6c8e"/>
<rect x="276" y="130" width="28" height="9" fill="#355f8d"/>
<rect x="304" y="130" width="10" height="9" fill="#463480"/>
<rect x="314" y="130" width="10" height="9" fill="#25848e"/>
<rect x="324" y="130" width="9" height="9" fill="#414487"/>
<rect x="333" y="130" width="10" height="9" fill="#25848e"/>
<rect x="343" y="130" width="9" height="9" fill="#355f8d"/>
<rect x="352" y="130" width="19" height="9" fill="#25848e"/>
<rect x="371" y="130" width="10" height="9" fill="#2a788e"/>
<rect x="381" y="130" width="19" height="9" fill="#25848e"/>
<rect x="400" y="130" width="9" height="9" fill="#2a788e"/>
<rect x="409" y="130" width="19" height="9" fill="#5ec962"/>
<rect x="428" y="130" width="10" height="9" fill="#2a788e"/>
<rect x="438" y="130" width="10" height="9" fill="#2f6c8e"/>
<rect x="448" y="130" width="9" height="9" fill="#9bd93c"/>
<rect x="457" y="130" width="19" height="9" fill="#2f6c8e"/>
<rect x="476" y="130" width="10" height="9" fill="#44bf70"/>
<rect x="486" y="130" width="9" height="9" fill="#21918c"/>
<rect x="495" y="130" width="10" height="9" fill="#2fb47c"/>
<rect x="505" y="130" width="19" height="9" fill="#2f6c8e"/>
<rect x="524" y="130" width="9" height="9" fill="#463480"/>
<rect x="38" y="139" width="9" height="9" fill="#25848e"/>
<rect x="47" y="139" width="9" height="9" fill="#2a788e"/>
<rect x="56" y="139" width="10" height="9" fill="#25848e"/>
<rect x="66" y="139" width="10" height="9" fill="#355f8d"/>
<rect x="76" y="139" width="9" height="9" fill="#414487"/>
<rect x="85" y="139" width="10" height="9" fill="#2f6c8e"/>
<rect x="95" y="139" width="9" height="9" fill="#2a788e"/>
<rect x="104" y="139" width="19" height="9" fill="#2f6c8e"/>
<rect x="123" y="139" width="10" height="9" fill="#355f8d"/>
<rect x="133" y="139" width="28" height="9" fill="#25848e"/>
<rect x="161" y="139" width="10" height="9" fill="#3b528b"/>
<rect x="171" y="139" width="9" height="9" fill="#2f6c8e"/>
<rect x="180" y="139" width="10" height="9" fill="#2a788e"/>
<rect x="190" y="139" width="10" height="9" fill="#2f6c8e"/>
<rect x="200" y="139" width="9" height="9" fill="#25848e"/>
<rect x="209" y="139" width="10" height="9" fill="#414487"/>
<rect x="219" y="139" width="9" height="9" fill="#21918c"/>
<rect x="228" y="139" width="10" height="9" fill="#2a788e"/>
<rect x="238" y="139" width="19" height="9" fill="#25848e"/>
<rect x="257" y="139" width="9" height="9" fill="#355f8d"/>
<rect x="266" y="139" width="29" height="9" fill="#2a788e"/>
<rect x="295" y="139" width="19" height="9" fill="#2f6c8e"/>
<rect x="314" y="139" width="10" height="9" fill="#2a788e"/>
<rect x="324" y="139" width="9" height="9" fill="#2f6c8e"/>
<rect x="333" y="139" width="10" height="9" fill="#2a788e"/>
<rect x="343" y="139" width="9" height="9" fill="#25848e"/>
<rect x="352" y="139" width="10" height="9" fill="#2f6c8e"/>
<rect x="362" y="139" width="9" height="9" fill="#25848e"/>
<rect x="371" y="139" width="10" height="9" fill="#2a788e"/>
<rect x="381" y="139" width="9" height="9" fill="#355f8d"/>
<rect x="390" y="139" width="10" height="9" fill="#21918c"/>
<rect x="400" y="139" width="9" height="9" fill="#2f6c8e"/>
<rect x="409" y="139" width="10" height="9" fill="#25848e"/>
<rect x="419" y="139" width="9" height="9" fill="#1e9c89"/>
<rect x="428" y="139" width="10" height="9" fill="#2f6c8e"/>
<rect x="438" y="139" width="10" height="9" fill="#414487"/>
<rect x="448" y="139" width="9" height="9" fill="#25848e"/>
<rect x="457" y="139" width="10" height="9" fill="#2a788e"/>
<rect x="467" y="139" width="9" height="9" fill="#2f6c8e"/>
<rect x="476" y="139" width="10" height="9" fill="#25848e"/>
<rect x="486" y="139" width="9" height="9" fill="#2f6c8e"/>
<rect x="495" y="139" width="10" height="9" fill="#25848e"/>
<rect x="505" y="139" width="19" height="9" fill="#2f6c8e"/>
<rect x="524" y="139" width="9" height="9" fill="#355f8d"/>
<rect x="38" y="148" width="9" height="9" fill="#463480"/>
<rect x="47" y="148" width="9" height="9" fill="#482475"/>
<rect x="56" y="148" width="10" height="9" fill="#463480"/>
<rect x="66" y="148" width="10" height="9" fill="#2f6c8e"/>
<rect x="76" y="148" width="9" height="9" fill="#3b528b"/>
<rect x="85" y="148" width="19" height="9" fill="#2f6c8e"/>
<rect x="104" y="148" width="10" height="9" fill="#2a788e"/>
<rect x="114" y="148" width="9" height="9" fill="#414487"/>
<rect x="123" y="148" width="10" height="9" fill="#25848e"/>
<rect x="133" y="148" width="9" height="9" fill="#2f6c8e"/>
<rect x="142" y="148" width="10" height="9" fill="#414487"/>
<rect x="152" y="148" width="9" height="9" fill="#463480"/>
<rect x="161" y="148" width="10" height="9" fill="#21918c"/>
<rect x="171" y="148" width="9" height="9" fill="#1e9c89"/>
<rect x="180" y="148" width="10" height="9" fill="#3b528b"/>
<rect x="190" y="148" width="10" height="9" fill="#1e9c89"/>
<rect x="200" y="148" width="9" height="9" fill="#3b528b"/>
<rect x="209" y="148" width="10" height="9" fill="#2f6c8e"/>
<rect x="219" y="148" width="9" height="9" fill="#25848e"/>
<rect x="228" y="148" width="10" height="9" fill="#3b528b"/>
<rect x="238" y="148" width="9" height="9" fill="#463480"/>
<rect x="247" y="148" width="10" height="9" fill="#3b528b"/>
<rect x="257" y="148" width="9" height="9" fill="#414487"/>
<rect x="266" y="148" width="10" height="9" fill="#355f8d"/>
<rect x="276" y="148" width="9" height="9" fill="#2f6c8e"/>
<rect x="285" y="148" width="10" height="9" fill="#3b528b"/>
<rect x="295" y="148" width="9" height="9" fill="#355f8d"/>
<rect x="304" y="148" width="10" height="9" fill="#25848e"/>
<rect x="314" y="148" width="19" height="9" fill="#2f6c8e"/>
<rect x="333" y="148" width="10" height="9" fill="#463480"/>
<rect x="343" y="148" width="9" height="9" fill="#2f6c8e"/>
<rect x="352" y="148" width="19" height="9" fill="#414487"/>
<rect x="371" y="148" width="10" height="9" fill="#2f6c8e"/>
<rect x="381" y="148" width="9" height="9" fill="#355f8d"/>
<rect x="390" y="148" width="19" height="9" fill="#2f6c8e"/>
<rect x="409" y="148" width="10" height="9" fill="#463480"/>
<rect x="419" y="148" width="9" height="9" fill="#414487"/>
<rect x="428" y="148" width="20" height="9" fill="#463480"/>
<rect x="448" y="148" width="9" height="9" fill="#414487"/>
<rect x="457" y="148" width="10" height="9" fill="#355f8d"/>
<rect x="467" y="148" width="28" height="9" fill="#3b528b"/>
<rect x="495" y="148" width="10" height="9" fill="#463480"/>
<rect x="505" y="148" width="9" height="9" fill="#2f6c8e"/>
<rect x="514" y="148" width="10" height="9" fill="#22a884"/>
<rect x="524" y="148" width="9" height="9" fill="#25848e"/>
<rect x="38" y="157" width="9" height="9" fill="#482475"/>
<rect x="47" y="157" width="9" height="9" fill="#463480"/>
<rect x="56" y="157" width="10" height="9" fill="#414487"/>
<rect x="66" y="157" width="10" height="9" fill="#2f6c8e"/>
<rect x="76" y="157" width="9" height="9" fill="#414487"/>
<rect x="85" y="157" width="10" height="9" fill="#21918c"/>
<rect x="95" y="157" width="19" height="9" fill="#44bf70"/>
<rect x="114" y="157" width="9" height="9" fill="#414487"/>
<rect x="123" y="157" width="10" height="9" fill="#1e9c89"/>
<rect x="133" y="157" width="9" height="9" fill="#2f6c8e"/>
<rect x="142" y="157" width="10" height="9" fill="#355f8d"/>
<rect x="152" y="157" width="9" height="9" fill="#414487"/>
<rect x="161" y="157" width="10" height="9" fill="#21918c"/>
<rect x="171" y="157" width="9" height="9" fill="#5ec962"/>
<rect x="180" y="157" width="10" height="9" fill="#3b528b"/>
<rect x="190" y="157" width="10" height="9" fill="#9bd93c"/>
<rect x="200" y="157" width="9" height="9" fill="#463480"/>
<rect x="209" y="157" width="10" height="9" fill="#2a788e"/>
<rect x="219" y="157" width="9" height="9" fill="#25848e"/>
<rect x="228" y="157" width="19" height="9" fill="#414487"/>
<rect x="247" y="157" width="10" height="9" fill="#355f8d"/>
<rect x="257" y="157" width="9" height="9" fill="#3b528b"/>
<rect x="266" y="157" width="10" height="9" fill="#25848e"/>
<rect x="276" y="157" width="9" height="9" fill="#2a788e"/>
<rect x="285" y="157" width="10" height="9" fill="#355f8d"/>
<rect x="295" y="157" width="9" height="9" fill="#25848e"/>
<rect x="304" y="157" width="10" height="9" fill="#2fb47c"/>
<rect x="314" y="157" width="10" height="9" fill="#2f6c8e"/>
<rect x="324" y="157" width="9" height="9" fill="#2fb47c"/>
<rect x="333" y="157" width="10" height="9" fill="#3b528b"/>
<rect x="343" y="157" width="9" height="9" fill="#25848e"/>
<rect x="352" y="157" width="10" height="9" fill="#414487"/>
<rect x="362" y="157" width="9" height="9" fill="#3b528b"/>
<rect x="371" y="157" width="10" height="9" fill="#2f6c8e"/>
<rect x="381" y="157" width="9" height="9" fill="#355f8d"/>
<rect x="390" y="157" width="10" height="9" fill="#25848e"/>
<rect x="400" y="157" width="9" height="9" fill="#2a788e"/>
<rect x="409" y="157" width="10" height="9" fill="#463480"/>
<rect x="419" y="157" width="9" height="9" fill="#414487"/>
<rect x="428" y="157" width="10" height="9" fill="#3b528b"/>
<rect x="438" y="157" width="10" height="9" fill="#355f8d"/>
<rect x="448" y="157" width="9" height="9" fill="#482475"/>
<rect x="457" y="157" width="10" height="9" fill="#2a788e"/>
<rect x="467" y="157" width="9" height="9" fill="#2f6c8e"/>
<rect x="476" y="157" width="10" height="9" fill="#414487"/>
<rect x="486" y="157" width="9" height="9" fill="#3b528b"/>
<rect x="495" y="157" width="10" height="9" fill="#414487"/>
<rect x="505" y="157" width="9" height="9" fill="#2a788e"/>
<rect x="514" y="157" width="10" height="9" fill="#25848e"/>
<rect x="524" y="157" width="9" height="9" fill="#21918c"/>
<rect x="38" y="166" width="9" height="8" fill="#44bf70"/>
<rect x="47" y="166" width="9" height="8" fill="#25848e"/>
<rect x="56" y="166" width="10" height="8" fill="#1e9c89"/>
<rect x="66" y="166" width="10" height="8" fill="#2f6c8e"/>
<rect x="76" y="166" width="19" height="8" fill="#3b528b"/>
<rect x="95" y="166" width="9" height="8" fill="#25848e"/>
<rect x="104" y="166" width="10" height="8" fill="#355f8d"/>
<rect x="114" y="166" width="9" height="8" fill="#2a788e"/>
<rect x="123" y="166" width="10" height="8" fill="#463480"/>
<rect x="133" y="166" width="9" height="8" fill="#2f6c8e"/>
<rect x="142" y="166" width="10" height="8" fill="#25848e"/>
<rect x="152" y="166" width="9" height="8" fill="#1e9c89"/>
<rect x="161" y="166" width="19" height="8" fill="#414487"/>
<rect x="180" y="166" width="10" height="8" fill="#25848e"/>
<rect x="190" y="166" width="10" height="8" fill="#2f6c8e"/>
<rect x="200" y="166" width="9" height="8" fill="#2fb47c"/>
<rect x="209" y="166" width="10" height="8" fill="#3b528b"/>
<rect x="219" y="166" width="9" height="8" fill="#21918c"/>
<rect x="228" y="166" width="10" height="8" fill="#25848e"/>
<rect x="238" y="166" width="9" height="8" fill="#1e9c89"/>
<rect x="247" y="166" width="10" height="8" fill="#2fb47c"/>
<rect x="257" y="166" width="9" height="8" fill="#3b528b"/>
<rect x="266" y="166" width="10" height="8" fill="#25848e"/>
<rect x="276" y="166" width="28" height="8" fill="#2f6c8e"/>
<rect x="304" y="166" width="10" height="8" fill="#2a788e"/>
<rect x="314" y="166" width="10" height="8" fill="#355f8d"/>
<rect x="324" y="166" width="57" height="8" fill="#2a788e"/>
<rect x="381" y="166" width="9" height="8" fill="#2f6c8e"/>
<rect x="390" y="166" width="10" height="8" fill="#22a884"/>
<rect x="400" y="166" width="9" height="8" fill="#3b528b"/>
<rect x="409" y="166" width="19" height="8" fill="#2fb47c"/>
<rect x="428" y="166" width="10" height="8" fill="#2a788e"/>
<rect x="438" y="166" width="10" height="8" fill="#2f6c8e"/>
<rect x="448" y="166" width="9" height="8" fill="#1e9c89"/>
<rect x="457" y="166" width="10" height="8" fill="#2f6c8e"/>
<rect x="467" y="166" width="9" height="8" fill="#2a788e"/>
<rect x="476" y="166" width="10" height="8" fill="#25848e"/>
<rect x="486" y="166" width="9" height="8" fill="#2f6c8e"/>
<rect x="495" y="166" width="10" height="8" fill="#5ec962"/>
<rect x="505" y="166" width="9" height="8" fill="#3b528b"/>
<rect x="514" y="166" width="10" height="8" fill="#414487"/>
<rect x="524" y="166" width="9" height="8" fill="#355f8d"/>
<rect x="38" y="174" width="9" height="9" fill="#bddf26"/>
<rect x="47" y="174" width="9" height="9" fill="#21918c"/>
<rect x="56" y="174" width="10" height="9" fill="#25848e"/>
<rect x="66" y="174" width="19" height="9" fill="#2f6c8e"/>
<rect x="85" y="174" width="10" height="9" fill="#3b528b"/>
<rect x="95" y="174" width="9" height="9" fill="#2a788e"/>
<rect x="104" y="174" width="10" height="9" fill="#482475"/>
<rect x="114" y="174" width="9" height="9" fill="#1e9c89"/>
<rect x="123" y="174" width="10" height="9" fill="#463480"/>
<rect x="133" y="174" width="9" height="9" fill="#355f8d"/>
<rect x="142" y="174" width="10" height="9" fill="#2a788e"/>
<rect x="152" y="174" width="9" height="9" fill="#1e9c89"/>
<rect x="161" y="174" width="10" height="9" fill="#463480"/>
<rect x="171" y="174" width="9" height="9" fill="#482475"/>
<rect x="180" y="174" width="10" height="9" fill="#25848e"/>
<rect x="190" y="174" width="10" height="9" fill="#3b528b"/>
<rect x="200" y="174" width="9" height="9" fill="#44bf70"/>
<rect x="209" y="174" width="10" height="9" fill="#355f8d"/>
<rect x="219" y="174" width="9" height="9" fill="#21918c"/>
<rect x="228" y="174" width="19" height="9" fill="#2fb47c"/>
<rect x="247" y="174" width="10" height="9" fill="#21918c"/>
<rect x="257" y="174" width="9" height="9" fill="#2a788e"/>
<rect x="266" y="174" width="10" height="9" fill="#2f6c8e"/>
<rect x="276" y="174" width="9" height="9" fill="#2a788e"/>
<rect x="285" y="174" width="10" height="9" fill="#355f8d"/>
<rect x="295" y="174" width="19" height="9" fill="#2a788e"/>
<rect x="314" y="174" width="10" height="9" fill="#25848e"/>
<rect x="324" y="174" width="9" height="9" fill="#2f6c8e"/>
<rect x="333" y="174" width="10" height="9" fill="#25848e"/>
<rect x="343" y="174" width="9" height="9" fill="#3b528b"/>
<rect x="352" y="174" width="10" height="9" fill="#2a788e"/>
<rect x="362" y="174" width="19" height="9" fill="#21918c"/>
<rect x="381" y="174" width="9" height="9" fill="#1e9c89"/>
<rect x="390" y="174" width="19" height="9" fill="#2a788e"/>
<rect x="409" y="174" width="10" height="9" fill="#5ec962"/>
<rect x="419" y="174" width="9" height="9" fill="#9bd93c"/>
<rect x="428" y="174" width="10" height="9" fill="#2a788e"/>
<rect x="438" y="174" width="10" height="9" fill="#2f6c8e"/>
<rect x="448" y="174" width="9" height="9" fill="#5ec962"/>
<rect x="457" y="174" width="10" height="9" fill="#3b528b"/>
<rect x="467" y="174" width="9" height="9" fill="#2f6c8e"/>
<rect x="476" y="174" width="10" height="9" fill="#2fb47c"/>
<rect x="486" y="174" width="9" height="9" fill="#25848e"/>
<rect x="495" y="174" width="10" height="9" fill="#2fb47c"/>
<rect x="505" y="174" width="19" height="9" fill="#355f8d"/>
<rect x="524" y="174" width="9" height="9" fill="#414487"/>
<rect x="38" y="183" width="9" height="9" fill="#44bf70"/>
<rect x="47" y="183" width="9" height="9" fill="#2a788e"/>
<rect x="56" y="183" width="10" height="9" fill="#2f6c8e"/>
<rect x="66" y="183" width="10" height="9" fill="#3b528b"/>
<rect x="76" y="183" width="9" height="9" fill="#2f6c8e"/>
<rect x="85" y="183" width="10" height="9" fill="#463480"/>
<rect x="95" y="183" width="9" height="9" fill="#355f8d"/>
<rect x="104" y="183" width="10" height="9" fill="#471365"/>
<rect x="114" y="183" width="9" height="9" fill="#1e9c89"/>
<rect x="123" y="183" width="10" height="9" fill="#414487"/>
<rect x="133" y="183" width="9" height="9" fill="#2a788e"/>
<rect x="142" y="183" width="10" height="9" fill="#355f8d"/>
<rect x="152" y="183" width="9" height="9" fill="#2a788e"/>
<rect x="161" y="183" width="10" height="9" fill="#414487"/>
<rect x="171" y="183" width="9" height="9" fill="#463480"/>
<rect x="180" y="183" width="10" height="9" fill="#2a788e"/>
<rect x="190" y="183" width="10" height="9" fill="#463480"/>
<rect x="200" y="183" width="9" height="9" fill="#44bf70"/>
<rect x="209" y="183" width="10" height="9" fill="#3b528b"/>
<rect x="219" y="183" width="9" height="9" fill="#2a788e"/>
<rect x="228" y="183" width="10" height="9" fill="#5ec962"/>
<rect x="238" y="183" width="19" height="9" fill="#21918c"/>
<rect x="257" y="183" width="9" height="9" fill="#2a788e"/>
<rect x="266" y="183" width="19" height="9" fill="#3b528b"/>
<rect x="285" y="183" width="10" height="9" fill="#355f8d"/>
<rect x="295" y="183" width="9" height="9" fill="#3b528b"/>
<rect x="304" y="183" width="10" height="9" fill="#414487"/>
<rect x="314" y="183" width="10" height="9" fill="#25848e"/>
<rect x="324" y="183" width="9" height="9" fill="#3b528b"/>
<rect x="333" y="183" width="10" height="9" fill="#25848e"/>
<rect x="343" y="183" width="9" height="9" fill="#414487"/>
<rect x="352" y="183" width="10" height="9" fill="#2f6c8e"/>
<rect x="362" y="183" width="9" height="9" fill="#25848e"/>
<rect x="371" y="183" width="10" height="9" fill="#2f6c8e"/>
<rect x="381" y="183" width="9" height="9" fill="#21918c"/>
<rect x="390" y="183" width="10" height="9" fill="#2f6c8e"/>
<rect x="400" y="183" width="9" height="9" fill="#21918c"/>
<rect x="409" y="183" width="10" height="9" fill="#2fb47c"/>
<rect x="419" y="183" width="9" height="9" fill="#44bf70"/>
<rect x="428" y="183" width="10" height="9" fill="#2f6c8e"/>
<rect x="438" y="183" width="10" height="9" fill="#414487"/>
<rect x="448" y="183" width="9" height="9" fill="#5ec962"/>
<rect x="457" y="183" width="10" height="9" fill="#3b528b"/>
<rect x="467" y="183" width="9" height="9" fill="#355f8d"/>
<rect x="476" y="183" width="10" height="9" fill="#2fb47c"/>
<rect x="486" y="183" width="19" height="9" fill="#25848e"/>
<rect x="505" y="183" width="19" height="9" fill="#2a788e"/>
<rect x="524" y="183" width="9" height="9" fill="#414487"/>
<rect x="38" y="192" width="9" height="9" fill="#2fb47c"/>
<rect x="47" y="192" width="9" height="9" fill="#21918c"/>
<rect x="56" y="192" width="10" height="9" fill="#1e9c89"/>
<rect x="66" y="192" width="10" height="9" fill="#2a788e"/>
<rect x="76" y="192" width="19" height="9" fill="#2f6c8e"/>
<rect x="95" y="192" width="9" height="9" fill="#2a788e"/>
<rect x="104" y="192" width="10" height="9" fill="#355f8d"/>
<rect x="114" y="192" width="9" height="9" fill="#2a788e"/>
<rect x="123" y="192" width="10" height="9" fill="#355f8d"/>
<rect x="133" y="192" width="9" height="9" fill="#2f6c8e"/>
<rect x="142" y="192" width="19" height="9" fill="#1e9c89"/>
<rect x="161" y="192" width="10" height="9" fill="#3b528b"/>
<rect x="171" y="192" width="9" height="9" fill="#355f8d"/>
<rect x="180" y="192" width="10" height="9" fill="#25848e"/>
<rect x="190" y="192" width="10" height="9" fill="#2a788e"/>
<rect x="200" y="192" width="9" height="9" fill="#21918c"/>
<rect x="209" y="192" width="10" height="9" fill="#2f6c8e"/>
<rect x="219" y="192" width="9" height="9" fill="#1e9c89"/>
<rect x="228" y="192" width="10" height="9" fill="#2a788e"/>
<rect x="238" y="192" width="9" height="9" fill="#21918c"/>
<rect x="247" y="192" width="10" height="9" fill="#22a884"/>
<rect x="257" y="192" width="9" height="9" fill="#3b528b"/>
<rect x="266" y="192" width="10" height="9" fill="#21918c"/>
<rect x="276" y="192" width="19" height="9" fill="#2a788e"/>
<rect x="295" y="192" width="9" height="9" fill="#2f6c8e"/>
<rect x="304" y="192" width="29" height="9" fill="#25848e"/>
<rect x="333" y="192" width="10" height="9" fill="#2a788e"/>
<rect x="343" y="192" width="19" height="9" fill="#25848e"/>
<rect x="362" y="192" width="9" height="9" fill="#21918c"/>
<rect x="371" y="192" width="19" height="9" fill="#2a788e"/>
<rect x="390" y="192" width="10" height="9" fill="#44bf70"/>
<rect x="400" y="192" width="9" height="9" fill="#2f6c8e"/>
<rect x="409" y="192" width="10" height="9" fill="#1e9c89"/>
<rect x="419" y="192" width="9" height="9" fill="#44bf70"/>
<rect x="428" y="192" width="10" height="9" fill="#2a788e"/>
<rect x="438" y="192" width="10" height="9" fill="#2f6c8e"/>
<rect x="448" y="192" width="9" height="9" fill="#1e9c89"/>
<rect x="457" y="192" width="19" height="9" fill="#2f6c8e"/>
<rect x="476" y="192" width="10" height="9" fill="#1e9c89"/>
<rect x="486" y="192" width="9" height="9" fill="#2f6c8e"/>
<rect x="495" y="192" width="10" height="9" fill="#44bf70"/>
<rect x="505" y="192" width="9" height="9" fill="#2f6c8e"/>
<rect x="514" y="192" width="10" height="9" fill="#355f8d"/>
<rect x="524" y="192" width="9" height="9" fill="#2f6c8e"/>
<rect x="38" y="201" width="9" height="9" fill="#44bf70"/>
<rect x="47" y="201" width="9" height="9" fill="#2f6c8e"/>
<rect x="56" y="201" width="10" height="9" fill="#2a788e"/>
<rect x="66" y="201" width="29" height="9" fill="#3b528b"/>
<rect x="95" y="201" width="9" height="9" fill="#2f6c8e"/>
<rect x="104" y="201" width="10" height="9" fill="#3b528b"/>
<rect x="114" y="201" width="9" height="9" fill="#25848e"/>
<rect x="123" y="201" width="10" height="9" fill="#414487"/>
<rect x="133" y="201" width="9" height="9" fill="#355f8d"/>
<rect x="142" y="201" width="19" height="9" fill="#25848e"/>
<rect x="161" y="201" width="19" height="9" fill="#482475"/>
<rect x="180" y="201" width="10" height="9" fill="#2a788e"/>
<rect x="190" y="201" width="10" height="9" fill="#3b528b"/>
<rect x="200" y="201" width="9" height="9" fill="#25848e"/>
<rect x="209" y="201" width="10" height="9" fill="#3b528b"/>
<rect x="219" y="201" width="9" height="9" fill="#1e9c89"/>
<rect x="228" y="201" width="10" height="9" fill="#21918c"/>
<rect x="238" y="201" width="9" height="9" fill="#1e9c89"/>
<rect x="247" y="201" width="10" height="9" fill="#21918c"/>
<rect x="257" y="201" width="19" height="9" fill="#2a788e"/>
<rect x="276" y="201" width="19" height="9" fill="#355f8d"/>
<rect x="295" y="201" width="9" height="9" fill="#2a788e"/>
<rect x="304" y="201" width="10" height="9" fill="#2f6c8e"/>
<rect x="314" y="201" width="10" height="9" fill="#25848e"/>
<rect x="324" y="201" width="9" height="9" fill="#3b528b"/>
<rect x="333" y="201" width="10" height="9" fill="#2a788e"/>
<rect x="343" y="201" width="19" height="9" fill="#2f6c8e"/>
<rect x="362" y="201" width="19" height="9" fill="#1e9c89"/>
<rect x="381" y="201" width="9" height="9" fill="#25848e"/>
<rect x="390" y="201" width="10" height="9" fill="#21918c"/>
<rect x="400" y="201" width="9" height="9" fill="#355f8d"/>
<rect x="409" y="201" width="10" height="9" fill="#2fb47c"/>
<rect x="419" y="201" width="9" height="9" fill="#5ec962"/>
<rect x="428" y="201" width="10" height="9" fill="#3b528b"/>
<rect x="438" y="201" width="10" height="9" fill="#2f6c8e"/>
<rect x="448" y="201" width="9" height="9" fill="#2fb47c"/>
<rect x="457" y="201" width="19" height="9" fill="#2f6c8e"/>
<rect x="476" y="201" width="10" height="9" fill="#1e9c89"/>
<rect x="486" y="201" width="9" height="9" fill="#2a788e"/>
<rect x="495" y="201" width="10" height="9" fill="#2fb47c"/>
<rect x="505" y="201" width="19" height="9" fill="#2f6c8e"/>
<rect x="524" y="201" width="9" height="9" fill="#3b528b"/>
<rect x="38" y="210" width="18" height="9" fill="#2f6c8e"/>
<rect x="56" y="210" width="20" height="9" fill="#2a788e"/>
<rect x="76" y="210" width="9" height="9" fill="#414487"/>
<rect x="85" y="210" width="10" height="9" fill="#2a788e"/>
<rect x="95" y="210" width="9" height="9" fill="#1e9c89"/>
<rect x="104" y="210" width="10" height="9" fill="#2a788e"/>
<rect x="114" y="210" width="9" height="9" fill="#355f8d"/>
<rect x="123" y="210" width="19" height="9" fill="#2a788e"/>
<rect x="142" y="210" width="10" height="9" fill="#25848e"/>
<rect x="152" y="210" width="19" height="9" fill="#2f6c8e"/>
<rect x="171" y="210" width="9" height="9" fill="#21918c"/>
<rect x="180" y="210" width="10" height="9" fill="#2f6c8e"/>
<rect x="190" y="210" width="10" height="9" fill="#22a884"/>
<rect x="200" y="210" width="9" height="9" fill="#2f6c8e"/>
<rect x="209" y="210" width="10" height="9" fill="#3b528b"/>
<rect x="219" y="210" width="9" height="9" fill="#25848e"/>
<rect x="228" y="210" width="10" height="9" fill="#414487"/>
<rect x="238" y="210" width="9" height="9" fill="#2f6c8e"/>
<rect x="247" y="210" width="10" height="9" fill="#2a788e"/>
<rect x="257" y="210" width="9" height="9" fill="#3b528b"/>
<rect x="266" y="210" width="10" height="9" fill="#25848e"/>
<rect x="276" y="210" width="9" height="9" fill="#2a788e"/>
<rect x="285" y="210" width="19" height="9" fill="#2f6c8e"/>
<rect x="304" y="210" width="10" height="9" fill="#1e9c89"/>
<rect x="314" y="210" width="10" height="9" fill="#2f6c8e"/>
<rect x="324" y="210" width="9" height="9" fill="#25848e"/>
<rect x="333" y="210" width="19" height="9" fill="#2f6c8e"/>
<rect x="352" y="210" width="10" height="9" fill="#3b528b"/>
<rect x="362" y="210" width="9" height="9" fill="#355f8d"/>
<rect x="371" y="210" width="19" height="9" fill="#2a788e"/>
<rect x="390" y="210" width="10" height="9" fill="#1e9c89"/>
<rect x="400" y="210" width="9" height="9" fill="#355f8d"/>
<rect x="409" y="210" width="10" height="9" fill="#2f6c8e"/>
<rect x="419" y="210" width="9" height="9" fill="#2a788e"/>
<rect x="428" y="210" width="29" height="9" fill="#355f8d"/>
<rect x="457" y="210" width="10" height="9" fill="#2a788e"/>
<rect x="467" y="210" width="9" height="9" fill="#3b528b"/>
<rect x="476" y="210" width="10" height="9" fill="#2f6c8e"/>
<rect x="486" y="210" width="9" height="9" fill="#3b528b"/>
<rect x="495" y="210" width="10" height="9" fill="#2a788e"/>
<rect x="505" y="210" width="19" height="9" fill="#2f6c8e"/>
<rect x="524" y="210" width="9" height="9" fill="#2a788e"/>
<rect x="38" y="219" width="9" height="9" fill="#2f6c8e"/>
<rect x="47" y="219" width="9" height="9" fill="#355f8d"/>
<rect x="56" y="219" width="10" height="9" fill="#2a788e"/>
<rect x="66" y="219" width="29" height="9" fill="#2f6c8e"/>
<rect x="95" y="219" width="19" height="9" fill="#25848e"/>
<rect x="114" y="219" width="9" height="9" fill="#3b528b"/>
<rect x="123" y="219" width="10" height="9" fill="#2f6c8e"/>
<rect x="133" y="219" width="9" height="9" fill="#2a788e"/>
<rect x="142" y="219" width="10" height="9" fill="#25848e"/>
<rect x="152" y="219" width="9" height="9" fill="#2f6c8e"/>
<rect x="161" y="219" width="19" height="9" fill="#2a788e"/>
<rect x="180" y="219" width="10" height="9" fill="#2f6c8e"/>
<rect x="190" y="219" width="10" height="9" fill="#22a884"/>
<rect x="200" y="219" width="19" height="9" fill="#2f6c8e"/>
<rect x="219" y="219" width="9" height="9" fill="#21918c"/>
<rect x="228" y="219" width="10" height="9" fill="#355f8d"/>
<rect x="238" y="219" width="28" height="9" fill="#2f6c8e"/>
<rect x="266" y="219" width="19" height="9" fill="#2a788e"/>
<rect x="285" y="219" width="10" height="9" fill="#355f8d"/>
<rect x="295" y="219" width="9" height="9" fill="#21918c"/>
<rect x="304" y="219" width="10" height="9" fill="#25848e"/>
<rect x="314" y="219" width="10" height="9" fill="#2a788e"/>
<rect x="324" y="219" width="9" height="9" fill="#21918c"/>
<rect x="333" y="219" width="10" height="9" fill="#355f8d"/>
<rect x="343" y="219" width="9" height="9" fill="#2a788e"/>
<rect x="352" y="219" width="10" height="9" fill="#414487"/>
<rect x="362" y="219" width="9" height="9" fill="#2f6c8e"/>
<rect x="371" y="219" width="10" height="9" fill="#25848e"/>
<rect x="381" y="219" width="9" height="9" fill="#2f6c8e"/>
<rect x="390" y="219" width="10" height="9" fill="#1e9c89"/>
<rect x="400" y="219" width="9" height="9" fill="#2a788e"/>
<rect x="409" y="219" width="10" height="9" fill="#2f6c8e"/>
<rect x="419" y="219" width="9" height="9" fill="#2a788e"/>
<rect x="428" y="219" width="10" height="9" fill="#3b528b"/>
<rect x="438" y="219" width="10" height="9" fill="#2a788e"/>
<rect x="448" y="219" width="38" height="9" fill="#2f6c8e"/>
<rect x="486" y="219" width="9" height="9" fill="#3b528b"/>
<rect x="495" y="219" width="10" height="9" fill="#2a788e"/>
<rect x="505" y="219" width="9" height="9" fill="#2f6c8e"/>
<rect x="514" y="219" width="10" height="9" fill="#25848e"/>
<rect x="524" y="219" width="9" height="9" fill="#2f6c8e"/>
<rect x="38" y="228" width="9" height="9" fill="#1e9c89"/>
<rect x="47" y="228" width="9" height="9" fill="#25848e"/>
<rect x="56" y="228" width="10" height="9" fill="#1e9c89"/>
<rect x="66" y="228" width="19" height="9" fill="#355f8d"/>
<rect x="85" y="228" width="10" height="9" fill="#3b528b"/>
<rect x="95" y="228" width="28" height="9" fill="#2f6c8e"/>
<rect x="123" y="228" width="10" height="9" fill="#414487"/>
<rect x="133" y="228" width="9" height="9" fill="#2f6c8e"/>
<rect x="142" y="228" width="19" height="9" fill="#25848e"/>
<rect x="161" y="228" width="10" height="9" fill="#414487"/>
<rect x="171" y="228" width="9" height="9" fill="#3b528b"/>
<rect x="180" y="228" width="10" height="9" fill="#2a788e"/>
<rect x="190" y="228" width="10" height="9" fill="#2f6c8e"/>
<rect x="200" y="228" width="9" height="9" fill="#2a788e"/>
<rect x="209" y="228" width="10" height="9" fill="#355f8d"/>
<rect x="219" y="228" width="9" height="9" fill="#1e9c89"/>
<rect x="228" y="228" width="10" height="9" fill="#2f6c8e"/>
<rect x="238" y="228" width="9" height="9" fill="#21918c"/>
<rect x="247" y="228" width="10" height="9" fill="#2a788e"/>
<rect x="257" y="228" width="9" height="9" fill="#355f8d"/>
<rect x="266" y="228" width="10" height="9" fill="#2f6c8e"/>
<rect x="276" y="228" width="19" height="9" fill="#355f8d"/>
<rect x="295" y="228" width="9" height="9" fill="#2a788e"/>
<rect x="304" y="228" width="10" height="9" fill="#355f8d"/>
<rect x="314" y="228" width="10" height="9" fill="#21918c"/>
<rect x="324" y="228" width="19" height="9" fill="#355f8d"/>
<rect x="343" y="228" width="9" height="9" fill="#2a788e"/>
<rect x="352" y="228" width="10" height="9" fill="#355f8d"/>
<rect x="362" y="228" width="9" height="9" fill="#2a788e"/>
<rect x="371" y="228" width="29" height="9" fill="#25848e"/>
<rect x="400" y="228" width="9" height="9" fill="#355f8d"/>
<rect x="409" y="228" width="10" height="9" fill="#25848e"/>
<rect x="419" y="228" width="9" height="9" fill="#1e9c89"/>
<rect x="428" y="228" width="10" height="9" fill="#355f8d"/>
<rect x="438" y="228" width="10" height="9" fill="#2f6c8e"/>
<rect x="448" y="228" width="9" height="9" fill="#21918c"/>
<rect x="457" y="228" width="10" height="9" fill="#3b528b"/>
<rect x="467" y="228" width="9" height="9" fill="#2a788e"/>
<rect x="476" y="228" width="10" height="9" fill="#25848e"/>
<rect x="486" y="228" width="9" height="9" fill="#355f8d"/>
<rect x="495" y="228" width="10" height="9" fill="#1e9c89"/>
<rect x="505" y="228" width="9" height="9" fill="#3b528b"/>
<rect x="514" y="228" width="10" height="9" fill="#2f6c8e"/>
<rect x="524" y="228" width="9" height="9" fill="#355f8d"/>
<rect x="38" y="237" width="9" height="9" fill="#463480"/>
<rect x="47" y="237" width="9" height="9" fill="#2f6c8e"/>
<rect x="56" y="237" width="10" height="9" fill="#25848e"/>
<rect x="66" y="237" width="10" height="9" fill="#1e9c89"/>
<rect x="76" y="237" width="9" height="9" fill="#3b528b"/>
<rect x="85" y="237" width="10" height="9" fill="#5ec962"/>
<rect x="95" y="237" width="9" height="9" fill="#bddf26"/>
<rect x="104" y="237" width="10" height="9" fill="#5ec962"/>
<rect x="114" y="237" width="9" height="9" fill="#463480"/>
<rect x="123" y="237" width="10" height="9" fill="#1e9c89"/>
<rect x="133" y="237" width="9" height="9" fill="#2f6c8e"/>
<rect x="142" y="237" width="10" height="9" fill="#21918c"/>
<rect x="152" y="237" width="9" height="9" fill="#2f6c8e"/>
<rect x="161" y="237" width="10" height="9" fill="#22a884"/>
<rect x="171" y="237" width="9" height="9" fill="#5ec962"/>
<rect x="180" y="237" width="10" height="9" fill="#2f6c8e"/>
<rect x="190" y="237" width="10" height="9" fill="#fde725"/>
<rect x="200" y="237" width="9" height="9" fill="#463480"/>
<rect x="209" y="237" width="19" height="9" fill="#25848e"/>
<rect x="228" y="237" width="10" height="9" fill="#463480"/>
<rect x="238" y="237" width="19" height="9" fill="#2f6c8e"/>
<rect x="257" y="237" width="9" height="9" fill="#355f8d"/>
<rect x="266" y="237" width="10" height="9" fill="#44bf70"/>
<rect x="276" y="237" width="9" height="9" fill="#1e9c89"/>
<rect x="285" y="237" width="10" height="9" fill="#25848e"/>
<rect x="295" y="237" width="9" height="9" fill="#21918c"/>
<rect x="304" y="237" width="10" height="9" fill="#bddf26"/>
<rect x="314" y="237" width="10" height="9" fill="#2f6c8e"/>
<rect x="324" y="237" width="9" height="9" fill="#7ad151"/>
<rect x="333" y="237" width="10" height="9" fill="#3b528b"/>
<rect x="343" y="237" width="9" height="9" fill="#1e9c89"/>
<rect x="352" y="237" width="10" height="9" fill="#2f6c8e"/>
<rect x="362" y="237" width="9" height="9" fill="#25848e"/>
<rect x="371" y="237" width="10" height="9" fill="#2f6c8e"/>
<rect x="381" y="237" width="9" height="9" fill="#414487"/>
<rect x="390" y="237" width="10" height="9" fill="#22a884"/>
<rect x="400" y="237" width="9" height="9" fill="#2f6c8e"/>
<rect x="409" y="237" width="19" height="9" fill="#3b528b"/>
<rect x="428" y="237" width="10" height="9" fill="#2f6c8e"/>
<rect x="438" y="237" width="10" height="9" fill="#21918c"/>
<rect x="448" y="237" width="9" height="9" fill="#482475"/>
<rect x="457" y="237" width="10" height="9" fill="#1e9c89"/>
<rect x="467" y="237" width="9" height="9" fill="#25848e"/>
<rect x="476" y="237" width="19" height="9" fill="#355f8d"/>
<rect x="495" y="237" width="19" height="9" fill="#25848e"/>
<rect x="514" y="237" width="10" height="9" fill="#2f6c8e"/>
<rect x="524" y="237" width="9" height="9" fill="#1e9c89"/>
<rect x="38" y="246" width="9" height="8" fill="#2fb47c"/>
<rect x="47" y="246" width="9" height="8" fill="#21918c"/>
<rect x="56" y="246" width="10" height="8" fill="#1e9c89"/>
<rect x="66" y="246" width="10" height="8" fill="#2a788e"/>
<rect x="76" y="246" width="9" height="8" fill="#355f8d"/>
<rect x="85" y="246" width="10" height="8" fill="#2f6c8e"/>
<rect x="95" y="246" width="9" height="8" fill="#21918c"/>
<rect x="104" y="246" width="10" height="8" fill="#2f6c8e"/>
<rect x="114" y="246" width="9" height="8" fill="#2a788e"/>
<rect x="123" y="246" width="19" height="8" fill="#2f6c8e"/>
<rect x="142" y="246" width="10" height="8" fill="#21918c"/>
<rect x="152" y="246" width="9" height="8" fill="#1e9c89"/>
<rect x="161" y="246" width="10" height="8" fill="#355f8d"/>
<rect x="171" y="246" width="9" height="8" fill="#2f6c8e"/>
<rect x="180" y="246" width="10" height="8" fill="#25848e"/>
<rect x="190" y="246" width="10" height="8" fill="#2a788e"/>
<rect x="200" y="246" width="9" height="8" fill="#2fb47c"/>
<rect x="209" y="246" width="10" height="8" fill="#2f6c8e"/>
<rect x="219" y="246" width="9" height="8" fill="#22a884"/>
<rect x="228" y="246" width="10" height="8" fill="#25848e"/>
<rect x="238" y="246" width="9" height="8" fill="#1e9c89"/>
<rect x="247" y="246" width="10" height="8" fill="#44bf70"/>
<rect x="257" y="246" width="9" height="8" fill="#355f8d"/>
<rect x="266" y="246" width="10" height="8" fill="#1e9c89"/>
<rect x="276" y="246" width="28" height="8" fill="#25848e"/>
<rect x="304" y="246" width="10" height="8" fill="#21918c"/>
<rect x="314" y="246" width="10" height="8" fill="#2a788e"/>
<rect x="324" y="246" width="9" height="8" fill="#21918c"/>
<rect x="333" y="246" width="19" height="8" fill="#2a788e"/>
<rect x="352" y="246" width="10" height="8" fill="#25848e"/>
<rect x="362" y="246" width="19" height="8" fill="#21918c"/>
<rect x="381" y="246" width="9" height="8" fill="#2a788e"/>
<rect x="390" y="246" width="10" height="8" fill="#44bf70"/>
<rect x="400" y="246" width="9" height="8" fill="#2a788e"/>
<rect x="409" y="246" width="10" height="8" fill="#2fb47c"/>
<rect x="419" y="246" width="9" height="8" fill="#5ec962"/>
<rect x="428" y="246" width="20" height="8" fill="#25848e"/>
<rect x="448" y="246" width="9" height="8" fill="#1e9c89"/>
<rect x="457" y="246" width="10" height="8" fill="#25848e"/>
<rect x="467" y="246" width="9" height="8" fill="#2a788e"/>
<rect x="476" y="246" width="10" height="8" fill="#1e9c89"/>
<rect x="486" y="246" width="9" height="8" fill="#2f6c8e"/>
<rect x="495" y="246" width="10" height="8" fill="#7ad151"/>
<rect x="505" y="246" width="9" height="8" fill="#2f6c8e"/>
<rect x="514" y="246" width="10" height="8" fill="#414487"/>
<rect x="524" y="246" width="9" height="8" fill="#2f6c8e"/>
<rect x="38" y="254" width="9" height="9" fill="#5ec962"/>
<rect x="47" y="254" width="19" height="9" fill="#1e9c89"/>
<rect x="66" y="254" width="10" height="9" fill="#355f8d"/>
<rect x="76" y="254" width="9" height="9" fill="#2f6c8e"/>
<rect x="85" y="254" width="10" height="9" fill="#355f8d"/>
<rect x="95" y="254" width="9" height="9" fill="#2f6c8e"/>
<rect x="104" y="254" width="10" height="9" fill="#463480"/>
<rect x="114" y="254" width="9" height="9" fill="#21918c"/>
<rect x="123" y="254" width="10" height="9" fill="#414487"/>
<rect x="133" y="254" width="9" height="9" fill="#2f6c8e"/>
<rect x="142" y="254" width="10" height="9" fill="#21918c"/>
<rect x="152" y="254" width="9" height="9" fill="#22a884"/>
<rect x="161" y="254" width="10" height="9" fill="#463480"/>
<rect x="171" y="254" width="9" height="9" fill="#482475"/>
<rect x="180" y="254" width="10" height="9" fill="#25848e"/>
<rect x="190" y="254" width="10" height="9" fill="#463480"/>
<rect x="200" y="254" width="9" height="9" fill="#2fb47c"/>
<rect x="209" y="254" width="10" height="9" fill="#3b528b"/>
<rect x="219" y="254" width="9" height="9" fill="#25848e"/>
<rect x="228" y="254" width="29" height="9" fill="#1e9c89"/>
<rect x="257" y="254" width="9" height="9" fill="#2f6c8e"/>
<rect x="266" y="254" width="10" height="9" fill="#2a788e"/>
<rect x="276" y="254" width="9" height="9" fill="#2f6c8e"/>
<rect x="285" y="254" width="10" height="9" fill="#2a788e"/>
<rect x="295" y="254" width="9" height="9" fill="#355f8d"/>
<rect x="304" y="254" width="10" height="9" fill="#414487"/>
<rect x="314" y="254" width="10" height="9" fill="#1e9c89"/>
<rect x="324" y="254" width="9" height="9" fill="#2f6c8e"/>
<rect x="333" y="254" width="10" height="9" fill="#21918c"/>
<rect x="343" y="254" width="9" height="9" fill="#25848e"/>
<rect x="352" y="254" width="10" height="9" fill="#2a788e"/>
<rect x="362" y="254" width="9" height="9" fill="#1e9c89"/>
<rect x="371" y="254" width="10" height="9" fill="#25848e"/>
<rect x="381" y="254" width="9" height="9" fill="#21918c"/>
<rect x="390" y="254" width="10" height="9" fill="#1e9c89"/>
<rect x="400" y="254" width="9" height="9" fill="#2a788e"/>
<rect x="409" y="254" width="10" height="9" fill="#44bf70"/>
<rect x="419" y="254" width="9" height="9" fill="#9bd93c"/>
<rect x="428" y="254" width="10" height="9" fill="#25848e"/>
<rect x="438" y="254" width="10" height="9" fill="#2f6c8e"/>
<rect x="448" y="254" width="9" height="9" fill="#5ec962"/>
<rect x="457" y="254" width="10" height="9" fill="#2a788e"/>
<rect x="467" y="254" width="9" height="9" fill="#25848e"/>
<rect x="476" y="254" width="10" height="9" fill="#2fb47c"/>
<rect x="486" y="254" width="9" height="9" fill="#25848e"/>
<rect x="495" y="254" width="10" height="9" fill="#44bf70"/>
<rect x="505" y="254" width="9" height="9" fill="#2f6c8e"/>
<rect x="514" y="254" width="19" height="9" fill="#3b528b"/>
<rect x="38" y="263" width="9" height="9" fill="#2f6c8e"/>
<rect x="47" y="263" width="9" height="9" fill="#355f8d"/>
<rect x="56" y="263" width="10" height="9" fill="#414487"/>
<rect x="66" y="263" width="10" height="9" fill="#2a788e"/>
<rect x="76" y="263" width="9" height="9" fill="#3b528b"/>
<rect x="85" y="263" width="10" height="9" fill="#2f6c8e"/>
<rect x="95" y="263" width="9" height="9" fill="#2a788e"/>
<rect x="104" y="263" width="10" height="9" fill="#355f8d"/>
<rect x="114" y="263" width="19" height="9" fill="#2a788e"/>
<rect x="133" y="263" width="9" height="9" fill="#2f6c8e"/>
<rect x="142" y="263" width="10" height="9" fill="#414487"/>
<rect x="152" y="263" width="9" height="9" fill="#355f8d"/>
<rect x="161" y="263" width="19" height="9" fill="#2a788e"/>
<rect x="180" y="263" width="10" height="9" fill="#3b528b"/>
<rect x="190" y="263" width="10" height="9" fill="#1e9c89"/>
<rect x="200" y="263" width="9" height="9" fill="#2f6c8e"/>
<rect x="209" y="263" width="10" height="9" fill="#355f8d"/>
<rect x="219" y="263" width="9" height="9" fill="#2f6c8e"/>
<rect x="228" y="263" width="10" height="9" fill="#2a788e"/>
<rect x="238" y="263" width="9" height="9" fill="#355f8d"/>
<rect x="247" y="263" width="10" height="9" fill="#414487"/>
<rect x="257" y="263" width="9" height="9" fill="#355f8d"/>
<rect x="266" y="263" width="10" height="9" fill="#463480"/>
<rect x="276" y="263" width="9" height="9" fill="#2a788e"/>
<rect x="285" y="263" width="10" height="9" fill="#3b528b"/>
<rect x="295" y="263" width="9" height="9" fill="#355f8d"/>
<rect x="304" y="263" width="10" height="9" fill="#2a788e"/>
<rect x="314" y="263" width="10" height="9" fill="#2f6c8e"/>
<rect x="324" y="263" width="9" height="9" fill="#2a788e"/>
<rect x="333" y="263" width="10" height="9" fill="#355f8d"/>
<rect x="343" y="263" width="19" height="9" fill="#414487"/>
<rect x="362" y="263" width="9" height="9" fill="#3b528b"/>
<rect x="371" y="263" width="10" height="9" fill="#355f8d"/>
<rect x="381" y="263" width="9" height="9" fill="#2f6c8e"/>
<rect x="390" y="263" width="10" height="9" fill="#355f8d"/>
<rect x="400" y="263" width="9" height="9" fill="#2f6c8e"/>
<rect x="409" y="263" width="10" height="9" fill="#355f8d"/>
<rect x="419" y="263" width="9" height="9" fill="#2a788e"/>
<rect x="428" y="263" width="10" height="9" fill="#3b528b"/>
<rect x="438" y="263" width="10" height="9" fill="#414487"/>
<rect x="448" y="263" width="9" height="9" fill="#2a788e"/>
<rect x="457" y="263" width="10" height="9" fill="#355f8d"/>
<rect x="467" y="263" width="9" height="9" fill="#2f6c8e"/>
<rect x="476" y="263" width="10" height="9" fill="#2a788e"/>
<rect x="486" y="263" width="9" height="9" fill="#2f6c8e"/>
<rect x="495" y="263" width="10" height="9" fill="#463480"/>
<rect x="505" y="263" width="9" height="9" fill="#2a788e"/>
<rect x="514" y="263" width="10" height="9" fill="#25848e"/>
<rect x="524" y="263" width="9" height="9" fill="#2f6c8e"/>
<rect x="38" y="272" width="9" height="9" fill="#355f8d"/>
<rect x="47" y="272" width="9" height="9" fill="#414487"/>
<rect x="56" y="272" width="10" height="9" fill="#3b528b"/>
<rect x="66" y="272" width="19" height="9" fill="#355f8d"/>
<rect x="85" y="272" width="10" height="9" fill="#2f6c8e"/>
<rect x="95" y="272" width="28" height="9" fill="#355f8d"/>
<rect x="123" y="272" width="19" height="9" fill="#2a788e"/>
<rect x="142" y="272" width="10" height="9" fill="#355f8d"/>
<rect x="152" y="272" width="9" height="9" fill="#414487"/>
<rect x="161" y="272" width="10" height="9" fill="#2f6c8e"/>
<rect x="171" y="272" width="9" height="9" fill="#25848e"/>
<rect x="180" y="272" width="10" height="9" fill="#355f8d"/>
<rect x="190" y="272" width="19" height="9" fill="#2a788e"/>
<rect x="209" y="272" width="10" height="9" fill="#355f8d"/>
<rect x="219" y="272" width="9" height="9" fill="#2f6c8e"/>
<rect x="228" y="272" width="10" height="9" fill="#355f8d"/>
<rect x="238" y="272" width="9" height="9" fill="#414487"/>
<rect x="247" y="272" width="10" height="9" fill="#3b528b"/>
<rect x="257" y="272" width="9" height="9" fill="#2f6c8e"/>
<rect x="266" y="272" width="19" height="9" fill="#355f8d"/>
<rect x="285" y="272" width="10" height="9" fill="#2f6c8e"/>
<rect x="295" y="272" width="9" height="9" fill="#355f8d"/>
<rect x="304" y="272" width="10" height="9" fill="#2f6c8e"/>
<rect x="314" y="272" width="10" height="9" fill="#25848e"/>
<rect x="324" y="272" width="28" height="9" fill="#2f6c8e"/>
<rect x="352" y="272" width="10" height="9" fill="#414487"/>
<rect x="362" y="272" width="19" height="9" fill="#355f8d"/>
<rect x="381" y="272" width="9" height="9" fill="#25848e"/>
<rect x="390" y="272" width="10" height="9" fill="#3b528b"/>
<rect x="400" y="272" width="9" height="9" fill="#2f6c8e"/>
<rect x="409" y="272" width="29" height="9" fill="#355f8d"/>
<rect x="438" y="272" width="10" height="9" fill="#414487"/>
<rect x="448" y="272" width="9" height="9" fill="#355f8d"/>
<rect x="457" y="272" width="10" height="9" fill="#2f6c8e"/>
<rect x="467" y="272" width="9" height="9" fill="#3b528b"/>
<rect x="476" y="272" width="10" height="9" fill="#355f8d"/>
<rect x="486" y="272" width="9" height="9" fill="#2f6c8e"/>
<rect x="495" y="272" width="10" height="9" fill="#414487"/>
<rect x="505" y="272" width="9" height="9" fill="#2a788e"/>
<rect x="514" y="272" width="10" height="9" fill="#1e9c89"/>
<rect x="524" y="272" width="9" height="9" fill="#2a788e"/>
<rect x="38" y="281" width="18" height="9" fill="#2a788e"/>
<rect x="56" y="281" width="10" height="9" fill="#355f8d"/>
<rect x="66" y="281" width="10" height="9" fill="#3b528b"/>
<rect x="76" y="281" width="57" height="9" fill="#2f6c8e"/>
<rect x="133" y="281" width="9" height="9" fill="#414487"/>
<rect x="142" y="281" width="10" height="9" fill="#2a788e"/>
<rect x="152" y="281" width="9" height="9" fill="#355f8d"/>
<rect x="161" y="281" width="19" height="9" fill="#2f6c8e"/>
<rect x="180" y="281" width="10" height="9" fill="#3b528b"/>
<rect x="190" y="281" width="19" height="9" fill="#2f6c8e"/>
<rect x="209" y="281" width="10" height="9" fill="#3b528b"/>
<rect x="219" y="281" width="19" height="9" fill="#2f6c8e"/>
<rect x="238" y="281" width="19" height="9" fill="#355f8d"/>
<rect x="257" y="281" width="9" height="9" fill="#3b528b"/>
<rect x="266" y="281" width="29" height="9" fill="#414487"/>
<rect x="295" y="281" width="38" height="9" fill="#355f8d"/>
<rect x="333" y="281" width="10" height="9" fill="#3b528b"/>
<rect x="343" y="281" width="9" height="9" fill="#355f8d"/>
<rect x="352" y="281" width="19" height="9" fill="#414487"/>
<rect x="371" y="281" width="10" height="9" fill="#2f6c8e"/>
<rect x="381" y="281" width="9" height="9" fill="#2a788e"/>
<rect x="390" y="281" width="10" height="9" fill="#355f8d"/>
<rect x="400" y="281" width="9" height="9" fill="#2f6c8e"/>
<rect x="409" y="281" width="10" height="9" fill="#355f8d"/>
<rect x="419" y="281" width="9" height="9" fill="#2a788e"/>
<rect x="428" y="281" width="10" height="9" fill="#355f8d"/>
<rect x="438" y="281" width="10" height="9" fill="#414487"/>
<rect x="448" y="281" width="9" height="9" fill="#2a788e"/>
<rect x="457" y="281" width="19" height="9" fill="#3b528b"/>
<rect x="476" y="281" width="10" height="9" fill="#2f6c8e"/>
<rect x="486" y="281" width="9" height="9" fill="#355f8d"/>
<rect x="495" y="281" width="10" height="9" fill="#3b528b"/>
<rect x="505" y="281" width="9" height="9" fill="#355f8d"/>
<rect x="514" y="281" width="10" height="9" fill="#2a788e"/>
<rect x="524" y="281" width="9" height="9" fill="#2f6c8e"/>
<rect x="38" y="290" width="9" height="9" fill="#44bf70"/>
<rect x="47" y="290" width="9" height="9" fill="#25848e"/>
<rect x="56" y="290" width="10" height="9" fill="#21918c"/>
<rect x="66" y="290" width="19" height="9" fill="#355f8d"/>
<rect x="85" y="290" width="10" height="9" fill="#3b528b"/>
<rect x="95" y="290" width="9" height="9" fill="#2f6c8e"/>
<rect x="104" y="290" width="10" height="9" fill="#414487"/>
<rect x="114" y="290" width="9" height="9" fill="#25848e"/>
<rect x="123" y="290" width="10" height="9" fill="#463480"/>
<rect x="133" y="290" width="9" height="9" fill="#2f6c8e"/>
<rect x="142" y="290" width="10" height="9" fill="#2a788e"/>
<rect x="152" y="290" width="9" height="9" fill="#1e9c89"/>
<rect x="161" y="290" width="19" height="9" fill="#482475"/>
<rect x="180" y="290" width="10" height="9" fill="#2f6c8e"/>
<rect x="190" y="290" width="10" height="9" fill="#3b528b"/>
<rect x="200" y="290" width="9" height="9" fill="#1e9c89"/>
<rect x="209" y="290" width="10" height="9" fill="#3b528b"/>
<rect x="219" y="290" width="19" height="9" fill="#25848e"/>
<rect x="238" y="290" width="19" height="9" fill="#1e9c89"/>
<rect x="257" y="290" width="9" height="9" fill="#355f8d"/>
<rect x="266" y="290" width="10" height="9" fill="#2a788e"/>
<rect x="276" y="290" width="9" height="9" fill="#2f6c8e"/>
<rect x="285" y="290" width="29" height="9" fill="#355f8d"/>
<rect x="314" y="290" width="10" height="9" fill="#2a788e"/>
<rect x="324" y="290" width="9" height="9" fill="#355f8d"/>
<rect x="333" y="290" width="29" height="9" fill="#2f6c8e"/>
<rect x="362" y="290" width="9" height="9" fill="#21918c"/>
<rect x="371" y="290" width="19" height="9" fill="#2a788e"/>
<rect x="390" y="290" width="10" height="9" fill="#21918c"/>
<rect x="400" y="290" width="9" height="9" fill="#355f8d"/>
<rect x="409" y="290" width="10" height="9" fill="#1e9c89"/>
<rect x="419" y="290" width="9" height="9" fill="#5ec962"/>
<rect x="428" y="290" width="10" height="9" fill="#355f8d"/>
<rect x="438" y="290" width="10" height="9" fill="#2f6c8e"/>
<rect x="448" y="290" width="9" height="9" fill="#1e9c89"/>
<rect x="457" y="290" width="19" height="9" fill="#355f8d"/>
<rect x="476" y="290" width="10" height="9" fill="#21918c"/>
<rect x="486" y="290" width="9" height="9" fill="#2a788e"/>
<rect x="495" y="290" width="10" height="9" fill="#2fb47c"/>
<rect x="505" y="290" width="9" height="9" fill="#2f6c8e"/>
<rect x="514" y="290" width="10" height="9" fill="#355f8d"/>
<rect x="524" y="290" width="9" height="9" fill="#3b528b"/>
<rect x="38" y="299" width="9" height="9" fill="#1e9c89"/>
<rect x="47" y="299" width="9" height="9" fill="#2f6c8e"/>
<rect x="56" y="299" width="10" height="9" fill="#21918c"/>
<rect x="66" y="299" width="10" height="9" fill="#355f8d"/>
<rect x="76" y="299" width="9" height="9" fill="#463480"/>
<rect x="85" y="299" width="10" height="9" fill="#3b528b"/>
<rect x="95" y="299" width="9" height="9" fill="#25848e"/>
<rect x="104" y="299" width="10" height="9" fill="#3b528b"/>
<rect x="114" y="299" width="9" height="9" fill="#2f6c8e"/>
<rect x="123" y="299" width="10" height="9" fill="#414487"/>
<rect x="133" y="299" width="9" height="9" fill="#2f6c8e"/>
<rect x="142" y="299" width="10" height="9" fill="#355f8d"/>
<rect x="152" y="299" width="9" height="9" fill="#2a788e"/>
<rect x="161" y="299" width="10" height="9" fill="#414487"/>
<rect x="171" y="299" width="9" height="9" fill="#3b528b"/>
<rect x="180" y="299" width="20" height="9" fill="#2f6c8e"/>
<rect x="200" y="299" width="9" height="9" fill="#21918c"/>
<rect x="209" y="299" width="10" height="9" fill="#414487"/>
<rect x="219" y="299" width="19" height="9" fill="#2a788e"/>
<rect x="238" y="299" width="9" height="9" fill="#25848e"/>
<rect x="247" y="299" width="10" height="9" fill="#21918c"/>
<rect x="257" y="299" width="9" height="9" fill="#3b528b"/>
<rect x="266" y="299" width="10" height="9" fill="#2a788e"/>
<rect x="276" y="299" width="9" height="9" fill="#2f6c8e"/>
<rect x="285" y="299" width="19" height="9" fill="#355f8d"/>
<rect x="304" y="299" width="10" height="9" fill="#2f6c8e"/>
<rect x="314" y="299" width="10" height="9" fill="#3b528b"/>
<rect x="324" y="299" width="9" height="9" fill="#2a788e"/>
<rect x="333" y="299" width="29" height="9" fill="#355f8d"/>
<rect x="362" y="299" width="19" height="9" fill="#2f6c8e"/>
<rect x="381" y="299" width="9" height="9" fill="#3b528b"/>
<rect x="390" y="299" width="10" height="9" fill="#25848e"/>
<rect x="400" y="299" width="9" height="9" fill="#414487"/>
<rect x="409" y="299" width="10" height="9" fill="#25848e"/>
<rect x="419" y="299" width="9" height="9" fill="#21918c"/>
<rect x="428" y="299" width="20" height="9" fill="#355f8d"/>
<rect x="448" y="299" width="9" height="9" fill="#2a788e"/>
<rect x="457" y="299" width="10" height="9" fill="#355f8d"/>
<rect x="467" y="299" width="19" height="9" fill="#2a788e"/>
<rect x="486" y="299" width="9" height="9" fill="#355f8d"/>
<rect x="495" y="299" width="10" height="9" fill="#2fb47c"/>
<rect x="505" y="299" width="9" height="9" fill="#2f6c8e"/>
<rect x="514" y="299" width="10" height="9" fill="#414487"/>
<rect x="524" y="299" width="9" height="9" fill="#355f8d"/>
<rect x="38" y="308" width="9" height="9" fill="#9bd93c"/>
<rect x="47" y="308" width="9" height="9" fill="#2a788e"/>
<rect x="56" y="308" width="10" height="9" fill="#2f6c8e"/>
<rect x="66" y="308" width="10" height="9" fill="#355f8d"/>
<rect x="76" y="308" width="9" height="9" fill="#2a788e"/>
<rect x="85" y="308" width="10" height="9" fill="#3b528b"/>
<rect x="95" y="308" width="9" height="9" fill="#355f8d"/>
<rect x="104" y="308" width="10" height="9" fill="#482475"/>
<rect x="114" y="308" width="9" height="9" fill="#2fb47c"/>
<rect x="123" y="308" width="10" height="9" fill="#414487"/>
<rect x="133" y="308" width="9" height="9" fill="#2a788e"/>
<rect x="142" y="308" width="10" height="9" fill="#3b528b"/>
<rect x="152" y="308" width="9" height="9" fill="#2a788e"/>
<rect x="161" y="308" width="10" height="9" fill="#2f6c8e"/>
<rect x="171" y="308" width="9" height="9" fill="#463480"/>
<rect x="180" y="308" width="10" height="9" fill="#2f6c8e"/>
<rect x="190" y="308" width="10" height="9" fill="#414487"/>
<rect x="200" y="308" width="9" height="9" fill="#7ad151"/>
<rect x="209" y="308" width="10" height="9" fill="#3b528b"/>
<rect x="219" y="308" width="9" height="9" fill="#2f6c8e"/>
<rect x="228" y="308" width="10" height="9" fill="#44bf70"/>
<rect x="238" y="308" width="9" height="9" fill="#25848e"/>
<rect x="247" y="308" width="10" height="9" fill="#1e9c89"/>
<rect x="257" y="308" width="9" height="9" fill="#355f8d"/>
<rect x="266" y="308" width="10" height="9" fill="#414487"/>
<rect x="276" y="308" width="9" height="9" fill="#2f6c8e"/>
<rect x="285" y="308" width="10" height="9" fill="#355f8d"/>
<rect x="295" y="308" width="9" height="9" fill="#2f6c8e"/>
<rect x="304" y="308" width="10" height="9" fill="#3b528b"/>
<rect x="314" y="308" width="10" height="9" fill="#355f8d"/>
<rect x="324" y="308" width="9" height="9" fill="#3b528b"/>
<rect x="333" y="308" width="10" height="9" fill="#2a788e"/>
<rect x="343" y="308" width="9" height="9" fill="#414487"/>
<rect x="352" y="308" width="10" height="9" fill="#2a788e"/>
<rect x="362" y="308" width="9" height="9" fill="#2f6c8e"/>
<rect x="371" y="308" width="10" height="9" fill="#355f8d"/>
<rect x="381" y="308" width="9" height="9" fill="#21918c"/>
<rect x="390" y="308" width="10" height="9" fill="#2f6c8e"/>
<rect x="400" y="308" width="9" height="9" fill="#25848e"/>
<rect x="409" y="308" width="10" height="9" fill="#1e9c89"/>
<rect x="419" y="308" width="9" height="9" fill="#22a884"/>
<rect x="428" y="308" width="10" height="9" fill="#2a788e"/>
<rect x="438" y="308" width="10" height="9" fill="#414487"/>
<rect x="448" y="308" width="9" height="9" fill="#5ec962"/>
<rect x="457" y="308" width="10" height="9" fill="#2f6c8e"/>
<rect x="467" y="308" width="9" height="9" fill="#2a788e"/>
<rect x="476" y="308" width="10" height="9" fill="#2fb47c"/>
<rect x="486" y="308" width="9" height="9" fill="#22a884"/>
<rect x="495" y="308" width="10" height="9" fill="#21918c"/>
<rect x="505" y="308" width="19" height="9" fill="#2f6c8e"/>
<rect x="524" y="308" width="9" height="9" fill="#3b528b"/>
<rect x="38" y="317" width="18" height="8" fill="#2a788e"/>
<rect x="56" y="317" width="10" height="8" fill="#1e9c89"/>
<rect x="66" y="317" width="10" height="8" fill="#25848e"/>
<rect x="76" y="317" width="9" height="8" fill="#3b528b"/>
<rect x="85" y="317" width="19" height="8" fill="#1e9c89"/>
<rect x="104" y="317" width="10" height="8" fill="#22a884"/>
<rect x="114" y="317" width="9" height="8" fill="#355f8d"/>
<rect x="123" y="317" width="10" height="8" fill="#25848e"/>
<rect x="133" y="317" width="9" height="8" fill="#2a788e"/>
<rect x="142" y="317" width="19" height="8" fill="#1e9c89"/>
<rect x="161" y="317" width="10" height="8" fill="#2f6c8e"/>
<rect x="171" y="317" width="9" height="8" fill="#25848e"/>
<rect x="180" y="317" width="10" height="8" fill="#2a788e"/>
<rect x="190" y="317" width="10" height="8" fill="#1e9c89"/>
<rect x="200" y="317" width="19" height="8" fill="#2f6c8e"/>
<rect x="219" y="317" width="9" height="8" fill="#1e9c89"/>
<rect x="228" y="317" width="10" height="8" fill="#3b528b"/>
<rect x="238" y="317" width="9" height="8" fill="#25848e"/>
<rect x="247" y="317" width="10" height="8" fill="#1e9c89"/>
<rect x="257" y="317" width="9" height="8" fill="#3b528b"/>
<rect x="266" y="317" width="10" height="8" fill="#44bf70"/>
<rect x="276" y="317" width="9" height="8" fill="#2a788e"/>
<rect x="285" y="317" width="19" height="8" fill="#2f6c8e"/>
<rect x="304" y="317" width="10" height="8" fill="#21918c"/>
<rect x="314" y="317" width="10" height="8" fill="#25848e"/>
<rect x="324" y="317" width="9" height="8" fill="#1e9c89"/>
<rect x="333" y="317" width="10" height="8" fill="#355f8d"/>
<rect x="343" y="317" width="9" height="8" fill="#1e9c89"/>
<rect x="352" y="317" width="10" height="8" fill="#2a788e"/>
<rect x="362" y="317" width="9" height="8" fill="#25848e"/>
<rect x="371" y="317" width="10" height="8" fill="#21918c"/>
<rect x="381" y="317" width="9" height="8" fill="#3b528b"/>
<rect x="390" y="317" width="10" height="8" fill="#5ec962"/>
<rect x="400" y="317" width="9" height="8" fill="#355f8d"/>
<rect x="409" y="317" width="10" height="8" fill="#2f6c8e"/>
<rect x="419" y="317" width="9" height="8" fill="#25848e"/>
<rect x="428" y="317" width="10" height="8" fill="#2f6c8e"/>
<rect x="438" y="317" width="10" height="8" fill="#25848e"/>
<rect x="448" y="317" width="9" height="8" fill="#3b528b"/>
<rect x="457" y="317" width="10" height="8" fill="#21918c"/>
<rect x="467" y="317" width="9" height="8" fill="#2a788e"/>
<rect x="476" y="317" width="10" height="8" fill="#2f6c8e"/>
<rect x="486" y="317" width="9" height="8" fill="#3b528b"/>
<rect x="495" y="317" width="10" height="8" fill="#5ec962"/>
<rect x="505" y="317" width="9" height="8" fill="#2f6c8e"/>
<rect x="514" y="317" width="10" height="8" fill="#355f8d"/>
<rect x="524" y="317" width="9" height="8" fill="#21918c"/>
<rect x="38" y="325" width="9" height="9" fill="#2a788e"/>
<rect x="47" y="325" width="9" height="9" fill="#355f8d"/>
<rect x="56" y="325" width="10" height="9" fill="#2f6c8e"/>
<rect x="66" y="325" width="10" height="9" fill="#355f8d"/>
<rect x="76" y="325" width="57" height="9" fill="#2f6c8e"/>
<rect x="133" y="325" width="9" height="9" fill="#2a788e"/>
<rect x="142" y="325" width="19" height="9" fill="#2f6c8e"/>
<rect x="161" y="325" width="10" height="9" fill="#355f8d"/>
<rect x="171" y="325" width="29" height="9" fill="#2f6c8e"/>
<rect x="200" y="325" width="9" height="9" fill="#2a788e"/>
<rect x="209" y="325" width="10" height="9" fill="#3b528b"/>
<rect x="219" y="325" width="9" height="9" fill="#1e9c89"/>
<rect x="228" y="325" width="10" height="9" fill="#355f8d"/>
<rect x="238" y="325" width="9" height="9" fill="#2f6c8e"/>
<rect x="247" y="325" width="10" height="9" fill="#2a788e"/>
<rect x="257" y="325" width="9" height="9" fill="#355f8d"/>
<rect x="266" y="325" width="10" height="9" fill="#2f6c8e"/>
<rect x="276" y="325" width="19" height="9" fill="#355f8d"/>
<rect x="295" y="325" width="9" height="9" fill="#2f6c8e"/>
<rect x="304" y="325" width="29" height="9" fill="#2a788e"/>
<rect x="333" y="325" width="10" height="9" fill="#2f6c8e"/>
<rect x="343" y="325" width="9" height="9" fill="#2a788e"/>
<rect x="352" y="325" width="10" height="9" fill="#355f8d"/>
<rect x="362" y="325" width="9" height="9" fill="#2f6c8e"/>
<rect x="371" y="325" width="19" height="9" fill="#2a788e"/>
<rect x="390" y="325" width="19" height="9" fill="#2f6c8e"/>
<rect x="409" y="325" width="10" height="9" fill="#355f8d"/>
<rect x="419" y="325" width="9" height="9" fill="#25848e"/>
<rect x="428" y="325" width="20" height="9" fill="#3b528b"/>
<rect x="448" y="325" width="19" height="9" fill="#2f6c8e"/>
<rect x="467" y="325" width="9" height="9" fill="#355f8d"/>
<rect x="476" y="325" width="29" height="9" fill="#2a788e"/>
<rect x="505" y="325" width="9" height="9" fill="#355f8d"/>
<rect x="514" y="325" width="10" height="9" fill="#1e9c89"/>
<rect x="524" y="325" width="9" height="9" fill="#2a788e"/>
<rect x="38" y="334" width="28" height="9" fill="#463480"/>
<rect x="66" y="334" width="10" height="9" fill="#3b528b"/>
<rect x="76" y="334" width="9" height="9" fill="#463480"/>
<rect x="85" y="334" width="29" height="9" fill="#2a788e"/>
<rect x="114" y="334" width="9" height="9" fill="#471365"/>
<rect x="123" y="334" width="10" height="9" fill="#2a788e"/>
<rect x="133" y="334" width="19" height="9" fill="#355f8d"/>
<rect x="152" y="334" width="9" height="9" fill="#482475"/>
<rect x="161" y="334" width="10" height="9" fill="#3b528b"/>
<rect x="171" y="334" width="9" height="9" fill="#25848e"/>
<rect x="180" y="334" width="10" height="9" fill="#355f8d"/>
<rect x="190" y="334" width="10" height="9" fill="#2a788e"/>
<rect x="200" y="334" width="9" height="9" fill="#414487"/>
<rect x="209" y="334" width="10" height="9" fill="#3b528b"/>
<rect x="219" y="334" width="9" height="9" fill="#25848e"/>
<rect x="228" y="334" width="19" height="9" fill="#463480"/>
<rect x="247" y="334" width="10" height="9" fill="#355f8d"/>
<rect x="257" y="334" width="9" height="9" fill="#2f6c8e"/>
<rect x="266" y="334" width="10" height="9" fill="#2a788e"/>
<rect x="276" y="334" width="9" height="9" fill="#355f8d"/>
<rect x="285" y="334" width="10" height="9" fill="#3b528b"/>
<rect x="295" y="334" width="9" height="9" fill="#355f8d"/>
<rect x="304" y="334" width="10" height="9" fill="#2a788e"/>
<rect x="314" y="334" width="19" height="9" fill="#2f6c8e"/>
<rect x="333" y="334" width="10" height="9" fill="#414487"/>
<rect x="343" y="334" width="9" height="9" fill="#2a788e"/>
<rect x="352" y="334" width="10" height="9" fill="#482475"/>
<rect x="362" y="334" width="9" height="9" fill="#3b528b"/>
<rect x="371" y="334" width="10" height="9" fill="#2a788e"/>
<rect x="381" y="334" width="9" height="9" fill="#355f8d"/>
<rect x="390" y="334" width="10" height="9" fill="#2f6c8e"/>
<rect x="400" y="334" width="19" height="9" fill="#3b528b"/>
<rect x="419" y="334" width="9" height="9" fill="#355f8d"/>
<rect x="428" y="334" width="20" height="9" fill="#463480"/>
<rect x="448" y="334" width="9" height="9" fill="#482475"/>
<rect x="457" y="334" width="10" height="9" fill="#2a788e"/>
<rect x="467" y="334" width="9" height="9" fill="#482475"/>
<rect x="476" y="334" width="10" height="9" fill="#463480"/>
<rect x="486" y="334" width="9" height="9" fill="#414487"/>
<rect x="495" y="334" width="10" height="9" fill="#3b528b"/>
<rect x="505" y="334" width="9" height="9" fill="#2a788e"/>
<rect x="514" y="334" width="10" height="9" fill="#1e9c89"/>
<rect x="524" y="334" width="9" height="9" fill="#2a788e"/>
<rect x="38" y="343" width="9" height="9" fill="#482475"/>
<rect x="47" y="343" width="9" height="9" fill="#414487"/>
<rect x="56" y="343" width="10" height="9" fill="#3b528b"/>
<rect x="66" y="343" width="10" height="9" fill="#25848e"/>
<rect x="76" y="343" width="9" height="9" fill="#3b528b"/>
<rect x="85" y="343" width="10" height="9" fill="#1e9c89"/>
<rect x="95" y="343" width="9" height="9" fill="#9bd93c"/>
<rect x="104" y="343" width="10" height="9" fill="#44bf70"/>
<rect x="114" y="343" width="9" height="9" fill="#3b528b"/>
<rect x="123" y="343" width="10" height="9" fill="#22a884"/>
<rect x="133" y="343" width="19" height="9" fill="#355f8d"/>
<rect x="152" y="343" width="9" height="9" fill="#482475"/>
<rect x="161" y="343" width="10" height="9" fill="#7ad151"/>
<rect x="171" y="343" width="9" height="9" fill="#9bd93c"/>
<rect x="180" y="343" width="10" height="9" fill="#3b528b"/>
<rect x="190" y="343" width="10" height="9" fill="#dfe318"/>
<rect x="200" y="343" width="9" height="9" fill="#482475"/>
<rect x="209" y="343" width="10" height="9" fill="#2a788e"/>
<rect x="219" y="343" width="9" height="9" fill="#2f6c8e"/>
<rect x="228" y="343" width="19" height="9" fill="#355f8d"/>
<rect x="247" y="343" width="10" height="9" fill="#463480"/>
<rect x="257" y="343" width="9" height="9" fill="#2f6c8e"/>
<rect x="266" y="343" width="10" height="9" fill="#2a788e"/>
<rect x="276" y="343" width="9" height="9" fill="#25848e"/>
<rect x="285" y="343" width="10" height="9" fill="#2f6c8e"/>
<rect x="295" y="343" width="9" height="9" fill="#21918c"/>
<rect x="304" y="343" width="10" height="9" fill="#44bf70"/>
<rect x="314" y="343" width="10" height="9" fill="#355f8d"/>
<rect x="324" y="343" width="9" height="9" fill="#2fb47c"/>
<rect x="333" y="343" width="10" height="9" fill="#3b528b"/>
<rect x="343" y="343" width="9" height="9" fill="#2f6c8e"/>
<rect x="352" y="343" width="19" height="9" fill="#414487"/>
<rect x="371" y="343" width="10" height="9" fill="#2f6c8e"/>
<rect x="381" y="343" width="9" height="9" fill="#414487"/>
<rect x="390" y="343" width="10" height="9" fill="#2a788e"/>
<rect x="400" y="343" width="9" height="9" fill="#355f8d"/>
<rect x="409" y="343" width="19" height="9" fill="#463480"/>
<rect x="428" y="343" width="10" height="9" fill="#355f8d"/>
<rect x="438" y="343" width="10" height="9" fill="#2f6c8e"/>
<rect x="448" y="343" width="9" height="9" fill="#463480"/>
<rect x="457" y="343" width="19" height="9" fill="#2f6c8e"/>
<rect x="476" y="343" width="10" height="9" fill="#3b528b"/>
<rect x="486" y="343" width="9" height="9" fill="#355f8d"/>
<rect x="495" y="343" width="10" height="9" fill="#482475"/>
<rect x="505" y="343" width="9" height="9" fill="#25848e"/>
<rect x="514" y="343" width="10" height="9" fill="#1e9c89"/>
<rect x="524" y="343" width="9" height="9" fill="#2a788e"/>
<rect x="38" y="352" width="9" height="9" fill="#355f8d"/>
<rect x="47" y="352" width="9" height="9" fill="#463480"/>
<rect x="56" y="352" width="10" height="9" fill="#482475"/>
<rect x="66" y="352" width="10" height="9" fill="#414487"/>
<rect x="76" y="352" width="28" height="9" fill="#355f8d"/>
<rect x="104" y="352" width="10" height="9" fill="#2a788e"/>
<rect x="114" y="352" width="9" height="9" fill="#3b528b"/>
<rect x="123" y="352" width="10" height="9" fill="#2a788e"/>
<rect x="133" y="352" width="19" height="9" fill="#3b528b"/>
<rect x="152" y="352" width="9" height="9" fill="#414487"/>
<rect x="161" y="352" width="10" height="9" fill="#2f6c8e"/>
<rect x="171" y="352" width="9" height="9" fill="#2a788e"/>
<rect x="180" y="352" width="10" height="9" fill="#355f8d"/>
<rect x="190" y="352" width="10" height="9" fill="#2a788e"/>
<rect x="200" y="352" width="9" height="9" fill="#3b528b"/>
<rect x="209" y="352" width="10" height="9" fill="#355f8d"/>
<rect x="219" y="352" width="9" height="9" fill="#2a788e"/>
<rect x="228" y="352" width="10" height="9" fill="#355f8d"/>
<rect x="238" y="352" width="9" height="9" fill="#463480"/>
<rect x="247" y="352" width="10" height="9" fill="#355f8d"/>
<rect x="257" y="352" width="9" height="9" fill="#2f6c8e"/>
<rect x="266" y="352" width="10" height="9" fill="#3b528b"/>
<rect x="276" y="352" width="19" height="9" fill="#414487"/>
<rect x="295" y="352" width="29" height="9" fill="#2f6c8e"/>
<rect x="324" y="352" width="9" height="9" fill="#355f8d"/>
<rect x="333" y="352" width="19" height="9" fill="#3b528b"/>
<rect x="352" y="352" width="10" height="9" fill="#463480"/>
<rect x="362" y="352" width="9" height="9" fill="#355f8d"/>
<rect x="371" y="352" width="10" height="9" fill="#2f6c8e"/>
<rect x="381" y="352" width="9" height="9" fill="#25848e"/>
<rect x="390" y="352" width="10" height="9" fill="#355f8d"/>
<rect x="400" y="352" width="9" height="9" fill="#2a788e"/>
<rect x="409" y="352" width="19" height="9" fill="#355f8d"/>
<rect x="428" y="352" width="20" height="9" fill="#463480"/>
<rect x="448" y="352" width="9" height="9" fill="#3b528b"/>
<rect x="457" y="352" width="10" height="9" fill="#355f8d"/>
<rect x="467" y="352" width="9" height="9" fill="#414487"/>
<rect x="476" y="352" width="19" height="9" fill="#355f8d"/>
<rect x="495" y="352" width="10" height="9" fill="#3b528b"/>
<rect x="505" y="352" width="9" height="9" fill="#2f6c8e"/>
<rect x="514" y="352" width="10" height="9" fill="#22a884"/>
<rect x="524" y="352" width="9" height="9" fill="#2a788e"/>
<rect x="38" y="361" width="9" height="9" fill="#2fb47c"/>
<rect x="47" y="361" width="9" height="9" fill="#25848e"/>
<rect x="56" y="361" width="10" height="9" fill="#2f6c8e"/>
<rect x="66" y="361" width="19" height="9" fill="#2a788e"/>
<rect x="85" y="361" width="19" height="9" fill="#2f6c8e"/>
<rect x="104" y="361" width="10" height="9" fill="#414487"/>
<rect x="114" y="361" width="9" height="9" fill="#21918c"/>
<rect x="123" y="361" width="10" height="9" fill="#355f8d"/>
<rect x="133" y="361" width="9" height="9" fill="#2a788e"/>
<rect x="142" y="361" width="10" height="9" fill="#355f8d"/>
<rect x="152" y="361" width="9" height="9" fill="#2a788e"/>
<rect x="161" y="361" width="10" height="9" fill="#2f6c8e"/>
<rect x="171" y="361" width="9" height="9" fill="#3b528b"/>
<rect x="180" y="361" width="10" height="9" fill="#2f6c8e"/>
<rect x="190" y="361" width="10" height="9" fill="#355f8d"/>
<rect x="200" y="361" width="9" height="9" fill="#1e9c89"/>
<rect x="209" y="361" width="10" height="9" fill="#355f8d"/>
<rect x="219" y="361" width="9" height="9" fill="#25848e"/>
<rect x="228" y="361" width="10" height="9" fill="#21918c"/>
<rect x="238" y="361" width="9" height="9" fill="#2a788e"/>
<rect x="247" y="361" width="10" height="9" fill="#1e9c89"/>
<rect x="257" y="361" width="9" height="9" fill="#2f6c8e"/>
<rect x="266" y="361" width="10" height="9" fill="#3b528b"/>
<rect x="276" y="361" width="9" height="9" fill="#355f8d"/>
<rect x="285" y="361" width="10" height="9" fill="#2f6c8e"/>
<rect x="295" y="361" width="9" height="9" fill="#355f8d"/>
<rect x="304" y="361" width="10" height="9" fill="#2f6c8e"/>
<rect x="314" y="361" width="10" height="9" fill="#355f8d"/>
<rect x="324" y="361" width="9" height="9" fill="#2f6c8e"/>
<rect x="333" y="361" width="10" height="9" fill="#2a788e"/>
<rect x="343" y="361" width="9" height="9" fill="#355f8d"/>
<rect x="352" y="361" width="10" height="9" fill="#25848e"/>
<rect x="362" y="361" width="19" height="9" fill="#2f6c8e"/>
<rect x="381" y="361" width="9" height="9" fill="#25848e"/>
<rect x="390" y="361" width="10" height="9" fill="#2f6c8e"/>
<rect x="400" y="361" width="9" height="9" fill="#21918c"/>
<rect x="409" y="361" width="10" height="9" fill="#25848e"/>
<rect x="419" y="361" width="9" height="9" fill="#22a884"/>
<rect x="428" y="361" width="10" height="9" fill="#2a788e"/>
<rect x="438" y="361" width="10" height="9" fill="#3b528b"/>
<rect x="448" y="361" width="9" height="9" fill="#2fb47c"/>
<rect x="457" y="361" width="10" height="9" fill="#355f8d"/>
<rect x="467" y="361" width="9" height="9" fill="#2a788e"/>
<rect x="476" y="361" width="10" height="9" fill="#1e9c89"/>
<rect x="486" y="361" width="9" height="9" fill="#21918c"/>
<rect x="495" y="361" width="10" height="9" fill="#25848e"/>
<rect x="505" y="361" width="19" height="9" fill="#2a788e"/>
<rect x="524" y="361" width="9" height="9" fill="#2f6c8e"/>
<rect x="38" y="370" width="9" height="9" fill="#2fb47c"/>
<rect x="47" y="370" width="19" height="9" fill="#25848e"/>
<rect x="66" y="370" width="10" height="9" fill="#2a788e"/>
<rect x="76" y="370" width="9" height="9" fill="#2f6c8e"/>
<rect x="85" y="370" width="10" height="9" fill="#355f8d"/>
<rect x="95" y="370" width="9" height="9" fill="#2a788e"/>
<rect x="104" y="370" width="10" height="9" fill="#2f6c8e"/>
<rect x="114" y="370" width="9" height="9" fill="#1e9c89"/>
<rect x="123" y="370" width="10" height="9" fill="#355f8d"/>
<rect x="133" y="370" width="9" height="9" fill="#2a788e"/>
<rect x="142" y="370" width="10" height="9" fill="#2f6c8e"/>
<rect x="152" y="370" width="9" height="9" fill="#2a788e"/>
<rect x="161" y="370" width="10" height="9" fill="#2f6c8e"/>
<rect x="171" y="370" width="9" height="9" fill="#3b528b"/>
<rect x="180" y="370" width="10" height="9" fill="#2a788e"/>
<rect x="190" y="370" width="10" height="9" fill="#2f6c8e"/>
<rect x="200" y="370" width="9" height="9" fill="#1e9c89"/>
<rect x="209" y="370" width="10" height="9" fill="#2f6c8e"/>
<rect x="219" y="370" width="9" height="9" fill="#25848e"/>
<rect x="228" y="370" width="10" height="9" fill="#2fb47c"/>
<rect x="238" y="370" width="19" height="9" fill="#1e9c89"/>
<rect x="257" y="370" width="9" height="9" fill="#3b528b"/>
<rect x="266" y="370" width="10" height="9" fill="#355f8d"/>
<rect x="276" y="370" width="9" height="9" fill="#2f6c8e"/>
<rect x="285" y="370" width="10" height="9" fill="#355f8d"/>
<rect x="295" y="370" width="9" height="9" fill="#2f6c8e"/>
<rect x="304" y="370" width="10" height="9" fill="#2a788e"/>
<rect x="314" y="370" width="10" height="9" fill="#3b528b"/>
<rect x="324" y="370" width="19" height="9" fill="#2a788e"/>
<rect x="343" y="370" width="9" height="9" fill="#355f8d"/>
<rect x="352" y="370" width="19" height="9" fill="#25848e"/>
<rect x="371" y="370" width="10" height="9" fill="#2f6c8e"/>
<rect x="381" y="370" width="19" height="9" fill="#25848e"/>
<rect x="400" y="370" width="9" height="9" fill="#21918c"/>
<rect x="409" y="370" width="10" height="9" fill="#25848e"/>
<rect x="419" y="370" width="9" height="9" fill="#2fb47c"/>
<rect x="428" y="370" width="10" height="9" fill="#2a788e"/>
<rect x="438" y="370" width="10" height="9" fill="#355f8d"/>
<rect x="448" y="370" width="9" height="9" fill="#44bf70"/>
<rect x="457" y="370" width="10" height="9" fill="#2f6c8e"/>
<rect x="467" y="370" width="9" height="9" fill="#25848e"/>
<rect x="476" y="370" width="19" height="9" fill="#1e9c89"/>
<rect x="495" y="370" width="10" height="9" fill="#25848e"/>
<rect x="505" y="370" width="9" height="9" fill="#2f6c8e"/>
<rect x="514" y="370" width="19" height="9" fill="#355f8d"/>
<rect x="38" y="379" width="9" height="9" fill="#22a884"/>
<rect x="47" y="379" width="9" height="9" fill="#25848e"/>
<rect x="56" y="379" width="10" height="9" fill="#1e9c89"/>
<rect x="66" y="379" width="10" height="9" fill="#2f6c8e"/>
<rect x="76" y="379" width="9" height="9" fill="#3b528b"/>
<rect x="85" y="379" width="10" height="9" fill="#355f8d"/>
<rect x="95" y="379" width="9" height="9" fill="#25848e"/>
<rect x="104" y="379" width="10" height="9" fill="#3b528b"/>
<rect x="114" y="379" width="9" height="9" fill="#2a788e"/>
<rect x="123" y="379" width="10" height="9" fill="#414487"/>
<rect x="133" y="379" width="9" height="9" fill="#2f6c8e"/>
<rect x="142" y="379" width="10" height="9" fill="#25848e"/>
<rect x="152" y="379" width="9" height="9" fill="#21918c"/>
<rect x="161" y="379" width="19" height="9" fill="#414487"/>
<rect x="180" y="379" width="20" height="9" fill="#2f6c8e"/>
<rect x="200" y="379" width="9" height="9" fill="#2fb47c"/>
<rect x="209" y="379" width="10" height="9" fill="#3b528b"/>
<rect x="219" y="379" width="9" height="9" fill="#21918c"/>
<rect x="228" y="379" width="10" height="9" fill="#25848e"/>
<rect x="238" y="379" width="9" height="9" fill="#2fb47c"/>
<rect x="247" y="379" width="10" height="9" fill="#22a884"/>
<rect x="257" y="379" width="9" height="9" fill="#3b528b"/>
<rect x="266" y="379" width="10" height="9" fill="#21918c"/>
<rect x="276" y="379" width="9" height="9" fill="#2a788e"/>
<rect x="285" y="379" width="10" height="9" fill="#2f6c8e"/>
<rect x="295" y="379" width="9" height="9" fill="#355f8d"/>
<rect x="304" y="379" width="10" height="9" fill="#2f6c8e"/>
<rect x="314" y="379" width="10" height="9" fill="#25848e"/>
<rect x="324" y="379" width="19" height="9" fill="#2a788e"/>
<rect x="343" y="379" width="9" height="9" fill="#25848e"/>
<rect x="352" y="379" width="10" height="9" fill="#2f6c8e"/>
<rect x="362" y="379" width="19" height="9" fill="#25848e"/>
<rect x="381" y="379" width="9" height="9" fill="#2f6c8e"/>
<rect x="390" y="379" width="10" height="9" fill="#22a884"/>
<rect x="400" y="379" width="9" height="9" fill="#355f8d"/>
<rect x="409" y="379" width="10" height="9" fill="#25848e"/>
<rect x="419" y="379" width="9" height="9" fill="#7ad151"/>
<rect x="428" y="379" width="10" height="9" fill="#2a788e"/>
<rect x="438" y="379" width="10" height="9" fill="#2f6c8e"/>
<rect x="448" y="379" width="9" height="9" fill="#1e9c89"/>
<rect x="457" y="379" width="19" height="9" fill="#2a788e"/>
<rect x="476" y="379" width="10" height="9" fill="#1e9c89"/>
<rect x="486" y="379" width="9" height="9" fill="#2f6c8e"/>
<rect x="495" y="379" width="10" height="9" fill="#44bf70"/>
<rect x="505" y="379" width="9" height="9" fill="#355f8d"/>
<rect x="514" y="379" width="10" height="9" fill="#3b528b"/>
<rect x="524" y="379" width="9" height="9" fill="#355f8d"/>
<rect x="38" y="388" width="9" height="9" fill="#22a884"/>
<rect x="47" y="388" width="29" height="9" fill="#2f6c8e"/>
<rect x="76" y="388" width="19" height="9" fill="#355f8d"/>
<rect x="95" y="388" width="9" height="9" fill="#2f6c8e"/>
<rect x="104" y="388" width="10" height="9" fill="#3b528b"/>
<rect x="114" y="388" width="9" height="9" fill="#21918c"/>
<rect x="123" y="388" width="19" height="9" fill="#355f8d"/>
<rect x="142" y="388" width="10" height="9" fill="#2f6c8e"/>
<rect x="152" y="388" width="9" height="9" fill="#2a788e"/>
<rect x="161" y="388" width="19" height="9" fill="#3b528b"/>
<rect x="180" y="388" width="20" height="9" fill="#2f6c8e"/>
<rect x="200" y="388" width="9" height="9" fill="#21918c"/>
<rect x="209" y="388" width="10" height="9" fill="#355f8d"/>
<rect x="219" y="388" width="38" height="9" fill="#25848e"/>
<rect x="257" y="388" width="19" height="9" fill="#355f8d"/>
<rect x="276" y="388" width="9" height="9" fill="#2f6c8e"/>
<rect x="285" y="388" width="19" height="9" fill="#355f8d"/>
<rect x="304" y="388" width="39" height="9" fill="#2f6c8e"/>
<rect x="343" y="388" width="9" height="9" fill="#355f8d"/>
<rect x="352" y="388" width="10" height="9" fill="#2f6c8e"/>
<rect x="362" y="388" width="9" height="9" fill="#2a788e"/>
<rect x="371" y="388" width="19" height="9" fill="#2f6c8e"/>
<rect x="390" y="388" width="19" height="9" fill="#2a788e"/>
<rect x="409" y="388" width="10" height="9" fill="#21918c"/>
<rect x="419" y="388" width="9" height="9" fill="#1e9c89"/>
<rect x="428" y="388" width="10" height="9" fill="#25848e"/>
<rect x="438" y="388" width="10" height="9" fill="#414487"/>
<rect x="448" y="388" width="9" height="9" fill="#22a884"/>
<rect x="457" y="388" width="10" height="9" fill="#2f6c8e"/>
<rect x="467" y="388" width="9" height="9" fill="#2a788e"/>
<rect x="476" y="388" width="29" height="9" fill="#1e9c89"/>
<rect x="505" y="388" width="9" height="9" fill="#2f6c8e"/>
<rect x="514" y="388" width="10" height="9" fill="#2a788e"/>
<rect x="524" y="388" width="9" height="9" fill="#355f8d"/>
<rect x="38" y="397" width="9" height="8" fill="#355f8d"/>
<rect x="47" y="397" width="19" height="8" fill="#3b528b"/>
<rect x="66" y="397" width="10" height="8" fill="#355f8d"/>
<rect x="76" y="397" width="9" height="8" fill="#482475"/>
<rect x="85" y="397" width="10" height="8" fill="#2f6c8e"/>
<rect x="95" y="397" width="9" height="8" fill="#2a788e"/>
<rect x="104" y="397" width="19" height="8" fill="#355f8d"/>
<rect x="123" y="397" width="10" height="8" fill="#2f6c8e"/>
<rect x="133" y="397" width="9" height="8" fill="#355f8d"/>
<rect x="142" y="397" width="10" height="8" fill="#3b528b"/>
<rect x="152" y="397" width="9" height="8" fill="#463480"/>
<rect x="161" y="397" width="10" height="8" fill="#2f6c8e"/>
<rect x="171" y="397" width="9" height="8" fill="#2a788e"/>
<rect x="180" y="397" width="10" height="8" fill="#414487"/>
<rect x="190" y="397" width="10" height="8" fill="#21918c"/>
<rect x="200" y="397" width="19" height="8" fill="#3b528b"/>
<rect x="219" y="397" width="9" height="8" fill="#2f6c8e"/>
<rect x="228" y="397" width="19" height="8" fill="#355f8d"/>
<rect x="247" y="397" width="10" height="8" fill="#414487"/>
<rect x="257" y="397" width="19" height="8" fill="#3b528b"/>
<rect x="276" y="397" width="19" height="8" fill="#355f8d"/>
<rect x="295" y="397" width="9" height="8" fill="#2f6c8e"/>
<rect x="304" y="397" width="10" height="8" fill="#21918c"/>
<rect x="314" y="397" width="10" height="8" fill="#2f6c8e"/>
<rect x="324" y="397" width="9" height="8" fill="#25848e"/>
<rect x="333" y="397" width="10" height="8" fill="#355f8d"/>
<rect x="343" y="397" width="28" height="8" fill="#414487"/>
<rect x="371" y="397" width="10" height="8" fill="#2f6c8e"/>
<rect x="381" y="397" width="9" height="8" fill="#355f8d"/>
<rect x="390" y="397" width="10" height="8" fill="#3b528b"/>
<rect x="400" y="397" width="28" height="8" fill="#355f8d"/>
<rect x="428" y="397" width="10" height="8" fill="#3b528b"/>
<rect x="438" y="397" width="10" height="8" fill="#414487"/>
<rect x="448" y="397" width="47" height="8" fill="#355f8d"/>
<rect x="495" y="397" width="10" height="8" fill="#414487"/>
<rect x="505" y="397" width="9" height="8" fill="#2a788e"/>
<rect x="514" y="397" width="10" height="8" fill="#25848e"/>
<rect x="524" y="397" width="9" height="8" fill="#355f8d"/>
<rect x="38" y="405" width="9" height="9" fill="#2f6c8e"/>
<rect x="47" y="405" width="29" height="9" fill="#2a788e"/>
<rect x="76" y="405" width="9" height="9" fill="#355f8d"/>
<rect x="85" y="405" width="10" height="9" fill="#2f6c8e"/>
<rect x="95" y="405" width="9" height="9" fill="#1e9c89"/>
<rect x="104" y="405" width="57" height="9" fill="#2f6c8e"/>
<rect x="161" y="405" width="19" height="9" fill="#21918c"/>
<rect x="180" y="405" width="10" height="9" fill="#2f6c8e"/>
<rect x="190" y="405" width="10" height="9" fill="#2fb47c"/>
<rect x="200" y="405" width="9" height="9" fill="#2f6c8e"/>
<rect x="209" y="405" width="19" height="9" fill="#2a788e"/>
<rect x="228" y="405" width="29" height="9" fill="#2f6c8e"/>
<rect x="257" y="405" width="19" height="9" fill="#355f8d"/>
<rect x="276" y="405" width="9" height="9" fill="#25848e"/>
<rect x="285" y="405" width="10" height="9" fill="#2f6c8e"/>
<rect x="295" y="405" width="9" height="9" fill="#25848e"/>
<rect x="304" y="405" width="10" height="9" fill="#22a884"/>
<rect x="314" y="405" width="10" height="9" fill="#355f8d"/>
<rect x="324" y="405" width="9" height="9" fill="#21918c"/>
<rect x="333" y="405" width="10" height="9" fill="#2f6c8e"/>
<rect x="343" y="405" width="9" height="9" fill="#355f8d"/>
<rect x="352" y="405" width="10" height="9" fill="#2a788e"/>
<rect x="362" y="405" width="19" height="9" fill="#2f6c8e"/>
<rect x="381" y="405" width="9" height="9" fill="#2a788e"/>
<rect x="390" y="405" width="10" height="9" fill="#2f6c8e"/>
<rect x="400" y="405" width="9" height="9" fill="#2a788e"/>
<rect x="409" y="405" width="10" height="9" fill="#2f6c8e"/>
<rect x="419" y="405" width="19" height="9" fill="#25848e"/>
<rect x="438" y="405" width="10" height="9" fill="#2f6c8e"/>
<rect x="448" y="405" width="9" height="9" fill="#2a788e"/>
<rect x="457" y="405" width="10" height="9" fill="#355f8d"/>
<rect x="467" y="405" width="9" height="9" fill="#2a788e"/>
<rect x="476" y="405" width="10" height="9" fill="#2f6c8e"/>
<rect x="486" y="405" width="9" height="9" fill="#25848e"/>
<rect x="495" y="405" width="38" height="9" fill="#2f6c8e"/>
<rect x="38" y="414" width="9" height="9" fill="#463480"/>
<rect x="47" y="414" width="9" height="9" fill="#414487"/>
<rect x="56" y="414" width="20" height="9" fill="#2f6c8e"/>
<rect x="76" y="414" width="9" height="9" fill="#414487"/>
<rect x="85" y="414" width="10" height="9" fill="#21918c"/>
<rect x="95" y="414" width="19" height="9" fill="#22a884"/>
<rect x="114" y="414" width="9" height="9" fill="#463480"/>
<rect x="123" y="414" width="10" height="9" fill="#25848e"/>
<rect x="133" y="414" width="9" height="9" fill="#2f6c8e"/>
<rect x="142" y="414" width="10" height="9" fill="#2a788e"/>
<rect x="152" y="414" width="9" height="9" fill="#3b528b"/>
<rect x="161" y="414" width="10" height="9" fill="#2f6c8e"/>
<rect x="171" y="414" width="9" height="9" fill="#2fb47c"/>
<rect x="180" y="414" width="10" height="9" fill="#3b528b"/>
<rect x="190" y="414" width="10" height="9" fill="#2fb47c"/>
<rect x="200" y="414" width="9" height="9" fill="#3b528b"/>
<rect x="209" y="414" width="10" height="9" fill="#355f8d"/>
<rect x="219" y="414" width="9" height="9" fill="#2a788e"/>
<rect x="228" y="414" width="10" height="9" fill="#482475"/>
<rect x="238" y="414" width="28" height="9" fill="#355f8d"/>
<rect x="266" y="414" width="38" height="9" fill="#2a788e"/>
<rect x="304" y="414" width="10" height="9" fill="#22a884"/>
<rect x="314" y="414" width="10" height="9" fill="#355f8d"/>
<rect x="324" y="414" width="9" height="9" fill="#21918c"/>
<rect x="333" y="414" width="10" height="9" fill="#355f8d"/>
<rect x="343" y="414" width="9" height="9" fill="#25848e"/>
<rect x="352" y="414" width="19" height="9" fill="#355f8d"/>
<rect x="371" y="414" width="10" height="9" fill="#2f6c8e"/>
<rect x="381" y="414" width="9" height="9" fill="#3b528b"/>
<rect x="390" y="414" width="10" height="9" fill="#2a788e"/>
<rect x="400" y="414" width="9" height="9" fill="#3b528b"/>
<rect x="409" y="414" width="19" height="9" fill="#414487"/>
<rect x="428" y="414" width="10" height="9" fill="#355f8d"/>
<rect x="438" y="414" width="10" height="9" fill="#2f6c8e"/>
<rect x="448" y="414" width="9" height="9" fill="#482475"/>
<rect x="457" y="414" width="19" height="9" fill="#2a788e"/>
<rect x="476" y="414" width="10" height="9" fill="#463480"/>
<rect x="486" y="414" width="9" height="9" fill="#3b528b"/>
<rect x="495" y="414" width="19" height="9" fill="#355f8d"/>
<rect x="514" y="414" width="10" height="9" fill="#2a788e"/>
<rect x="524" y="414" width="9" height="9" fill="#1e9c89"/>
<rect x="38" y="423" width="9" height="9" fill="#414487"/>
<rect x="47" y="423" width="9" height="9" fill="#3b528b"/>
<rect x="56" y="423" width="10" height="9" fill="#355f8d"/>
<rect x="66" y="423" width="10" height="9" fill="#2f6c8e"/>
<rect x="76" y="423" width="9" height="9" fill="#3b528b"/>
<rect x="85" y="423" width="19" height="9" fill="#2a788e"/>
<rect x="104" y="423" width="10" height="9" fill="#1e9c89"/>
<rect x="114" y="423" width="9" height="9" fill="#3b528b"/>
<rect x="123" y="423" width="10" height="9" fill="#25848e"/>
<rect x="133" y="423" width="9" height="9" fill="#3b528b"/>
<rect x="142" y="423" width="10" height="9" fill="#2f6c8e"/>
<rect x="152" y="423" width="9" height="9" fill="#355f8d"/>
<rect x="161" y="423" width="10" height="9" fill="#2a788e"/>
<rect x="171" y="423" width="9" height="9" fill="#1e9c89"/>
<rect x="180" y="423" width="10" height="9" fill="#355f8d"/>
<rect x="190" y="423" width="10" height="9" fill="#2fb47c"/>
<rect x="200" y="423" width="9" height="9" fill="#463480"/>
<rect x="209" y="423" width="10" height="9" fill="#355f8d"/>
<rect x="219" y="423" width="9" height="9" fill="#1e9c89"/>
<rect x="228" y="423" width="10" height="9" fill="#3b528b"/>
<rect x="238" y="423" width="9" height="9" fill="#2f6c8e"/>
<rect x="247" y="423" width="10" height="9" fill="#3b528b"/>
<rect x="257" y="423" width="9" height="9" fill="#355f8d"/>
<rect x="266" y="423" width="38" height="9" fill="#2f6c8e"/>
<rect x="304" y="423" width="10" height="9" fill="#2a788e"/>
<rect x="314" y="423" width="10" height="9" fill="#25848e"/>
<rect x="324" y="423" width="9" height="9" fill="#2a788e"/>
<rect x="333" y="423" width="10" height="9" fill="#3b528b"/>
<rect x="343" y="423" width="9" height="9" fill="#21918c"/>
<rect x="352" y="423" width="10" height="9" fill="#463480"/>
<rect x="362" y="423" width="9" height="9" fill="#355f8d"/>
<rect x="371" y="423" width="10" height="9" fill="#25848e"/>
<rect x="381" y="423" width="9" height="9" fill="#3b528b"/>
<rect x="390" y="423" width="10" height="9" fill="#21918c"/>
<rect x="400" y="423" width="9" height="9" fill="#2f6c8e"/>
<rect x="409" y="423" width="10" height="9" fill="#3b528b"/>
<rect x="419" y="423" width="9" height="9" fill="#2f6c8e"/>
<rect x="428" y="423" width="10" height="9" fill="#414487"/>
<rect x="438" y="423" width="10" height="9" fill="#2f6c8e"/>
<rect x="448" y="423" width="9" height="9" fill="#3b528b"/>
<rect x="457" y="423" width="10" height="9" fill="#355f8d"/>
<rect x="467" y="423" width="9" height="9" fill="#2f6c8e"/>
<rect x="476" y="423" width="10" height="9" fill="#355f8d"/>
<rect x="486" y="423" width="9" height="9" fill="#414487"/>
<rect x="495" y="423" width="10" height="9" fill="#3b528b"/>
<rect x="505" y="423" width="9" height="9" fill="#2f6c8e"/>
<rect x="514" y="423" width="10" height="9" fill="#21918c"/>
<rect x="524" y="423" width="9" height="9" fill="#2f6c8e"/>
<rect x="38" y="432" width="9" height="9" fill="#471365"/>
<rect x="47" y="432" width="9" height="9" fill="#482475"/>
<rect x="56" y="432" width="10" height="9" fill="#463480"/>
<rect x="66" y="432" width="19" height="9" fill="#355f8d"/>
<rect x="85" y="432" width="10" height="9" fill="#25848e"/>
<rect x="95" y="432" width="9" height="9" fill="#2f6c8e"/>
<rect x="104" y="432" width="10" height="9" fill="#21918c"/>
<rect x="114" y="432" width="9" height="9" fill="#414487"/>
<rect x="123" y="432" width="10" height="9" fill="#1e9c89"/>
<rect x="133" y="432" width="9" height="9" fill="#2f6c8e"/>
<rect x="142" y="432" width="10" height="9" fill="#355f8d"/>
<rect x="152" y="432" width="9" height="9" fill="#463480"/>
<rect x="161" y="432" width="10" height="9" fill="#1e9c89"/>
<rect x="171" y="432" width="9" height="9" fill="#2fb47c"/>
<rect x="180" y="432" width="10" height="9" fill="#355f8d"/>
<rect x="190" y="432" width="10" height="9" fill="#2fb47c"/>
<rect x="200" y="432" width="9" height="9" fill="#471365"/>
<rect x="209" y="432" width="10" height="9" fill="#2a788e"/>
<rect x="219" y="432" width="9" height="9" fill="#25848e"/>
<rect x="228" y="432" width="10" height="9" fill="#414487"/>
<rect x="238" y="432" width="9" height="9" fill="#463480"/>
<rect x="247" y="432" width="10" height="9" fill="#414487"/>
<rect x="257" y="432" width="19" height="9" fill="#2f6c8e"/>
<rect x="276" y="432" width="9" height="9" fill="#355f8d"/>
<rect x="285" y="432" width="10" height="9" fill="#2f6c8e"/>
<rect x="295" y="432" width="9" height="9" fill="#2a788e"/>
<rect x="304" y="432" width="10" height="9" fill="#1e9c89"/>
<rect x="314" y="432" width="19" height="9" fill="#21918c"/>
<rect x="333" y="432" width="10" height="9" fill="#2f6c8e"/>
<rect x="343" y="432" width="9" height="9" fill="#2a788e"/>
<rect x="352" y="432" width="10" height="9" fill="#463480"/>
<rect x="362" y="432" width="19" height="9" fill="#2f6c8e"/>
<rect x="381" y="432" width="9" height="9" fill="#355f8d"/>
<rect x="390" y="432" width="10" height="9" fill="#472e7c"/>
<rect x="400" y="432" width="9" height="9" fill="#25848e"/>
<rect x="409" y="432" width="10" height="9" fill="#482475"/>
<rect x="419" y="432" width="19" height="9" fill="#463480"/>
<rect x="438" y="432" width="10" height="9" fill="#355f8d"/>
<rect x="448" y="432" width="9" height="9" fill="#414487"/>
<rect x="457" y="432" width="10" height="9" fill="#2f6c8e"/>
<rect x="467" y="432" width="9" height="9" fill="#355f8d"/>
<rect x="476" y="432" width="10" height="9" fill="#414487"/>
<rect x="486" y="432" width="9" height="9" fill="#2f6c8e"/>
<rect x="495" y="432" width="10" height="9" fill="#482475"/>
<rect x="505" y="432" width="9" height="9" fill="#25848e"/>
<rect x="514" y="432" width="10" height="9" fill="#5ec962"/>
<rect x="524" y="432" width="9" height="9" fill="#2a788e"/>
<rect x="38" y="441" width="18" height="9" fill="#2f6c8e"/>
<rect x="56" y="441" width="10" height="9" fill="#21918c"/>
<rect x="66" y="441" width="10" height="9" fill="#25848e"/>
<rect x="76" y="441" width="9" height="9" fill="#414487"/>
<rect x="85" y="441" width="10" height="9" fill="#22a884"/>
<rect x="95" y="441" width="9" height="9" fill="#44bf70"/>
<rect x="104" y="441" width="10" height="9" fill="#1e9c89"/>
<rect x="114" y="441" width="9" height="9" fill="#355f8d"/>
<rect x="123" y="441" width="10" height="9" fill="#25848e"/>
<rect x="133" y="441" width="9" height="9" fill="#2f6c8e"/>
<rect x="142" y="441" width="10" height="9" fill="#21918c"/>
<rect x="152" y="441" width="9" height="9" fill="#2a788e"/>
<rect x="161" y="441" width="10" height="9" fill="#2f6c8e"/>
<rect x="171" y="441" width="9" height="9" fill="#21918c"/>
<rect x="180" y="441" width="10" height="9" fill="#2f6c8e"/>
<rect x="190" y="441" width="10" height="9" fill="#2fb47c"/>
<rect x="200" y="441" width="19" height="9" fill="#2f6c8e"/>
<rect x="219" y="441" width="9" height="9" fill="#2fb47c"/>
<rect x="228" y="441" width="10" height="9" fill="#3b528b"/>
<rect x="238" y="441" width="19" height="9" fill="#25848e"/>
<rect x="257" y="441" width="9" height="9" fill="#355f8d"/>
<rect x="266" y="441" width="10" height="9" fill="#2fb47c"/>
<rect x="276" y="441" width="19" height="9" fill="#2a788e"/>
<rect x="295" y="441" width="9" height="9" fill="#2f6c8e"/>
<rect x="304" y="441" width="10" height="9" fill="#2fb47c"/>
<rect x="314" y="441" width="10" height="9" fill="#25848e"/>
<rect x="324" y="441" width="9" height="9" fill="#2fb47c"/>
<rect x="333" y="441" width="10" height="9" fill="#2f6c8e"/>
<rect x="343" y="441" width="9" height="9" fill="#44bf70"/>
<rect x="352" y="441" width="10" height="9" fill="#2a788e"/>
<rect x="362" y="441" width="9" height="9" fill="#25848e"/>
<rect x="371" y="441" width="10" height="9" fill="#2a788e"/>
<rect x="381" y="441" width="9" height="9" fill="#355f8d"/>
<rect x="390" y="441" width="10" height="9" fill="#44bf70"/>
<rect x="400" y="441" width="9" height="9" fill="#355f8d"/>
<rect x="409" y="441" width="10" height="9" fill="#2f6c8e"/>
<rect x="419" y="441" width="9" height="9" fill="#25848e"/>
<rect x="428" y="441" width="10" height="9" fill="#2f6c8e"/>
<rect x="438" y="441" width="10" height="9" fill="#2a788e"/>
<rect x="448" y="441" width="9" height="9" fill="#355f8d"/>
<rect x="457" y="441" width="10" height="9" fill="#25848e"/>
<rect x="467" y="441" width="19" height="9" fill="#2f6c8e"/>
<rect x="486" y="441" width="9" height="9" fill="#355f8d"/>
<rect x="495" y="441" width="10" height="9" fill="#21918c"/>
<rect x="505" y="441" width="9" height="9" fill="#25848e"/>
<rect x="514" y="441" width="10" height="9" fill="#2f6c8e"/>
<rect x="524" y="441" width="9" height="9" fill="#25848e"/>
<rect x="38" y="450" width="9" height="9" fill="#1e9c89"/>
<rect x="47" y="450" width="29" height="9" fill="#25848e"/>
<rect x="76" y="450" width="9" height="9" fill="#2f6c8e"/>
<rect x="85" y="450" width="19" height="9" fill="#21918c"/>
<rect x="104" y="450" width="10" height="9" fill="#2f6c8e"/>
<rect x="114" y="450" width="9" height="9" fill="#25848e"/>
<rect x="123" y="450" width="10" height="9" fill="#2f6c8e"/>
<rect x="133" y="450" width="9" height="9" fill="#25848e"/>
<rect x="142" y="450" width="10" height="9" fill="#21918c"/>
<rect x="152" y="450" width="9" height="9" fill="#22a884"/>
<rect x="161" y="450" width="10" height="9" fill="#2f6c8e"/>
<rect x="171" y="450" width="9" height="9" fill="#355f8d"/>
<rect x="180" y="450" width="10" height="9" fill="#2a788e"/>
<rect x="190" y="450" width="10" height="9" fill="#25848e"/>
<rect x="200" y="450" width="9" height="9" fill="#1e9c89"/>
<rect x="209" y="450" width="10" height="9" fill="#2f6c8e"/>
<rect x="219" y="450" width="9" height="9" fill="#22a884"/>
<rect x="228" y="450" width="10" height="9" fill="#25848e"/>
<rect x="238" y="450" width="9" height="9" fill="#1e9c89"/>
<rect x="247" y="450" width="10" height="9" fill="#2fb47c"/>
<rect x="257" y="450" width="9" height="9" fill="#3b528b"/>
<rect x="266" y="450" width="10" height="9" fill="#22a884"/>
<rect x="276" y="450" width="19" height="9" fill="#2a788e"/>
<rect x="295" y="450" width="9" height="9" fill="#355f8d"/>
<rect x="304" y="450" width="10" height="9" fill="#25848e"/>
<rect x="314" y="450" width="10" height="9" fill="#2a788e"/>
<rect x="324" y="450" width="9" height="9" fill="#2fb47c"/>
<rect x="333" y="450" width="10" height="9" fill="#2f6c8e"/>
<rect x="343" y="450" width="9" height="9" fill="#21918c"/>
<rect x="352" y="450" width="10" height="9" fill="#2a788e"/>
<rect x="362" y="450" width="9" height="9" fill="#1e9c89"/>
<rect x="371" y="450" width="19" height="9" fill="#2f6c8e"/>
<rect x="390" y="450" width="10" height="9" fill="#44bf70"/>
<rect x="400" y="450" width="9" height="9" fill="#2a788e"/>
<rect x="409" y="450" width="10" height="9" fill="#25848e"/>
<rect x="419" y="450" width="9" height="9" fill="#2fb47c"/>
<rect x="428" y="450" width="10" height="9" fill="#1e9c89"/>
<rect x="438" y="450" width="10" height="9" fill="#2f6c8e"/>
<rect x="448" y="450" width="9" height="9" fill="#25848e"/>
<rect x="457" y="450" width="10" height="9" fill="#21918c"/>
<rect x="467" y="450" width="9" height="9" fill="#25848e"/>
<rect x="476" y="450" width="10" height="9" fill="#2fb47c"/>
<rect x="486" y="450" width="9" height="9" fill="#2f6c8e"/>
<rect x="495" y="450" width="10" height="9" fill="#44bf70"/>
<rect x="505" y="450" width="9" height="9" fill="#25848e"/>
<rect x="514" y="450" width="10" height="9" fill="#2f6c8e"/>
<rect x="524" y="450" width="9" height="9" fill="#2a788e"/>
<rect x="38" y="459" width="9" height="9" fill="#463480"/>
<rect x="47" y="459" width="9" height="9" fill="#3b528b"/>
<rect x="56" y="459" width="10" height="9" fill="#414487"/>
<rect x="66" y="459" width="10" height="9" fill="#2f6c8e"/>
<rect x="76" y="459" width="9" height="9" fill="#414487"/>
<rect x="85" y="459" width="10" height="9" fill="#21918c"/>
<rect x="95" y="459" width="9" height="9" fill="#1e9c89"/>
<rect x="104" y="459" width="10" height="9" fill="#21918c"/>
<rect x="114" y="459" width="9" height="9" fill="#414487"/>
<rect x="123" y="459" width="10" height="9" fill="#2fb47c"/>
<rect x="133" y="459" width="9" height="9" fill="#2f6c8e"/>
<rect x="142" y="459" width="10" height="9" fill="#3b528b"/>
<rect x="152" y="459" width="9" height="9" fill="#463480"/>
<rect x="161" y="459" width="10" height="9" fill="#2fb47c"/>
<rect x="171" y="459" width="9" height="9" fill="#44bf70"/>
<rect x="180" y="459" width="10" height="9" fill="#414487"/>
<rect x="190" y="459" width="10" height="9" fill="#7ad151"/>
<rect x="200" y="459" width="9" height="9" fill="#3b528b"/>
<rect x="209" y="459" width="10" height="9" fill="#355f8d"/>
<rect x="219" y="459" width="9" height="9" fill="#2f6c8e"/>
<rect x="228" y="459" width="19" height="9" fill="#414487"/>
<rect x="247" y="459" width="10" height="9" fill="#463480"/>
<rect x="257" y="459" width="9" height="9" fill="#3b528b"/>
<rect x="266" y="459" width="19" height="9" fill="#2f6c8e"/>
<rect x="285" y="459" width="10" height="9" fill="#3b528b"/>
<rect x="295" y="459" width="9" height="9" fill="#355f8d"/>
<rect x="304" y="459" width="10" height="9" fill="#22a884"/>
<rect x="314" y="459" width="10" height="9" fill="#355f8d"/>
<rect x="324" y="459" width="9" height="9" fill="#1e9c89"/>
<rect x="333" y="459" width="10" height="9" fill="#3b528b"/>
<rect x="343" y="459" width="9" height="9" fill="#2f6c8e"/>
<rect x="352" y="459" width="10" height="9" fill="#3b528b"/>
<rect x="362" y="459" width="9" height="9" fill="#463480"/>
<rect x="371" y="459" width="10" height="9" fill="#355f8d"/>
<rect x="381" y="459" width="9" height="9" fill="#414487"/>
<rect x="390" y="459" width="19" height="9" fill="#2f6c8e"/>
<rect x="409" y="459" width="10" height="9" fill="#463480"/>
<rect x="419" y="459" width="19" height="9" fill="#3b528b"/>
<rect x="438" y="459" width="19" height="9" fill="#414487"/>
<rect x="457" y="459" width="10" height="9" fill="#2f6c8e"/>
<rect x="467" y="459" width="28" height="9" fill="#3b528b"/>
<rect x="495" y="459" width="10" height="9" fill="#482475"/>
<rect x="505" y="459" width="19" height="9" fill="#25848e"/>
<rect x="524" y="459" width="9" height="9" fill="#2a788e"/>
<rect x="38" y="468" width="9" height="9" fill="#2a788e"/>
<rect x="47" y="468" width="19" height="9" fill="#355f8d"/>
<rect x="66" y="468" width="10" height="9" fill="#414487"/>
<rect x="76" y="468" width="9" height="9" fill="#355f8d"/>
<rect x="85" y="468" width="10" height="9" fill="#3b528b"/>
<rect x="95" y="468" width="28" height="9" fill="#355f8d"/>
<rect x="123" y="468" width="10" height="9" fill="#414487"/>
<rect x="133" y="468" width="28" height="9" fill="#355f8d"/>
<rect x="161" y="468" width="19" height="9" fill="#3b528b"/>
<rect x="180" y="468" width="20" height="9" fill="#355f8d"/>
<rect x="200" y="468" width="9" height="9" fill="#2a788e"/>
<rect x="209" y="468" width="10" height="9" fill="#463480"/>
<rect x="219" y="468" width="9" height="9" fill="#2f6c8e"/>
<rect x="228" y="468" width="10" height="9" fill="#355f8d"/>
<rect x="238" y="468" width="9" height="9" fill="#3b528b"/>
<rect x="247" y="468" width="10" height="9" fill="#2f6c8e"/>
<rect x="257" y="468" width="9" height="9" fill="#355f8d"/>
<rect x="266" y="468" width="19" height="9" fill="#3b528b"/>
<rect x="285" y="468" width="10" height="9" fill="#414487"/>
<rect x="295" y="468" width="19" height="9" fill="#355f8d"/>
<rect x="314" y="468" width="19" height="9" fill="#3b528b"/>
<rect x="333" y="468" width="19" height="9" fill="#355f8d"/>
<rect x="352" y="468" width="10" height="9" fill="#414487"/>
<rect x="362" y="468" width="9" height="9" fill="#3b528b"/>
<rect x="371" y="468" width="29" height="9" fill="#2f6c8e"/>
<rect x="400" y="468" width="9" height="9" fill="#355f8d"/>
<rect x="409" y="468" width="10" height="9" fill="#2f6c8e"/>
<rect x="419" y="468" width="9" height="9" fill="#2a788e"/>
<rect x="428" y="468" width="10" height="9" fill="#414487"/>
<rect x="438" y="468" width="10" height="9" fill="#463480"/>
<rect x="448" y="468" width="9" height="9" fill="#2a788e"/>
<rect x="457" y="468" width="19" height="9" fill="#3b528b"/>
<rect x="476" y="468" width="19" height="9" fill="#355f8d"/>
<rect x="495" y="468" width="10" height="9" fill="#2f6c8e"/>
<rect x="505" y="468" width="9" height="9" fill="#414487"/>
<rect x="514" y="468" width="19" height="9" fill="#2f6c8e"/>
<rect x="38" y="477" width="9" height="8" fill="#7ad151"/>
<rect x="47" y="477" width="9" height="8" fill="#2a788e"/>
<rect x="56" y="477" width="10" height="8" fill="#25848e"/>
<rect x="66" y="477" width="10" height="8" fill="#2f6c8e"/>
<rect x="76" y="477" width="19" height="8" fill="#355f8d"/>
<rect x="95" y="477" width="9" height="8" fill="#2f6c8e"/>
<rect x="104" y="477" width="10" height="8" fill="#463480"/>
<rect x="114" y="477" width="9" height="8" fill="#1e9c89"/>
<rect x="123" y="477" width="10" height="8" fill="#3b528b"/>
<rect x="133" y="477" width="19" height="8" fill="#355f8d"/>
<rect x="152" y="477" width="9" height="8" fill="#25848e"/>
<rect x="161" y="477" width="10" height="8" fill="#2f6c8e"/>
<rect x="171" y="477" width="9" height="8" fill="#414487"/>
<rect x="180" y="477" width="10" height="8" fill="#2f6c8e"/>
<rect x="190" y="477" width="10" height="8" fill="#355f8d"/>
<rect x="200" y="477" width="9" height="8" fill="#2fb47c"/>
<rect x="209" y="477" width="10" height="8" fill="#355f8d"/>
<rect x="219" y="477" width="9" height="8" fill="#2a788e"/>
<rect x="228" y="477" width="10" height="8" fill="#1e9c89"/>
<rect x="238" y="477" width="19" height="8" fill="#21918c"/>
<rect x="257" y="477" width="9" height="8" fill="#355f8d"/>
<rect x="266" y="477" width="29" height="8" fill="#2f6c8e"/>
<rect x="295" y="477" width="19" height="8" fill="#2a788e"/>
<rect x="314" y="477" width="10" height="8" fill="#2f6c8e"/>
<rect x="324" y="477" width="9" height="8" fill="#2a788e"/>
<rect x="333" y="477" width="10" height="8" fill="#25848e"/>
<rect x="343" y="477" width="9" height="8" fill="#355f8d"/>
<rect x="352" y="477" width="29" height="8" fill="#2a788e"/>
<rect x="381" y="477" width="9" height="8" fill="#25848e"/>
<rect x="390" y="477" width="19" height="8" fill="#2f6c8e"/>
<rect x="409" y="477" width="19" height="8" fill="#2fb47c"/>
<rect x="428" y="477" width="10" height="8" fill="#2a788e"/>
<rect x="438" y="477" width="10" height="8" fill="#2f6c8e"/>
<rect x="448" y="477" width="9" height="8" fill="#44bf70"/>
<rect x="457" y="477" width="10" height="8" fill="#355f8d"/>
<rect x="467" y="477" width="9" height="8" fill="#25848e"/>
<rect x="476" y="477" width="10" height="8" fill="#1e9c89"/>
<rect x="486" y="477" width="9" height="8" fill="#25848e"/>
<rect x="495" y="477" width="10" height="8" fill="#1e9c89"/>
<rect x="505" y="477" width="9" height="8" fill="#2f6c8e"/>
<rect x="514" y="477" width="10" height="8" fill="#355f8d"/>
<rect x="524" y="477" width="9" height="8" fill="#3b528b"/>
<rect x="38" y="485" width="9" height="9" fill="#21918c"/>
<rect x="47" y="485" width="19" height="9" fill="#355f8d"/>
<rect x="66" y="485" width="29" height="9" fill="#3b528b"/>
<rect x="95" y="485" width="9" height="9" fill="#2f6c8e"/>
<rect x="104" y="485" width="10" height="9" fill="#463480"/>
<rect x="114" y="485" width="9" height="9" fill="#25848e"/>
<rect x="123" y="485" width="10" height="9" fill="#3b528b"/>
<rect x="133" y="485" width="28" height="9" fill="#355f8d"/>
<rect x="161" y="485" width="10" height="9" fill="#414487"/>
<rect x="171" y="485" width="29" height="9" fill="#355f8d"/>
<rect x="200" y="485" width="9" height="9" fill="#25848e"/>
<rect x="209" y="485" width="10" height="9" fill="#355f8d"/>
<rect x="219" y="485" width="38" height="9" fill="#2f6c8e"/>
<rect x="257" y="485" width="19" height="9" fill="#355f8d"/>
<rect x="276" y="485" width="9" height="9" fill="#2f6c8e"/>
<rect x="285" y="485" width="10" height="9" fill="#355f8d"/>
<rect x="295" y="485" width="9" height="9" fill="#2f6c8e"/>
<rect x="304" y="485" width="10" height="9" fill="#355f8d"/>
<rect x="314" y="485" width="10" height="9" fill="#2a788e"/>
<rect x="324" y="485" width="9" height="9" fill="#355f8d"/>
<rect x="333" y="485" width="10" height="9" fill="#2a788e"/>
<rect x="343" y="485" width="9" height="9" fill="#3b528b"/>
<rect x="352" y="485" width="10" height="9" fill="#355f8d"/>
<rect x="362" y="485" width="19" height="9" fill="#2f6c8e"/>
<rect x="381" y="485" width="9" height="9" fill="#25848e"/>
<rect x="390" y="485" width="10" height="9" fill="#355f8d"/>
<rect x="400" y="485" width="9" height="9" fill="#2f6c8e"/>
<rect x="409" y="485" width="10" height="9" fill="#2a788e"/>
<rect x="419" y="485" width="9" height="9" fill="#25848e"/>
<rect x="428" y="485" width="10" height="9" fill="#2f6c8e"/>
<rect x="438" y="485" width="10" height="9" fill="#3b528b"/>
<rect x="448" y="485" width="9" height="9" fill="#2a788e"/>
<rect x="457" y="485" width="19" height="9" fill="#355f8d"/>
<rect x="476" y="485" width="19" height="9" fill="#2a788e"/>
<rect x="495" y="485" width="29" height="9" fill="#2f6c8e"/>
<rect x="524" y="485" width="9" height="9" fill="#3b528b"/>
<rect x="565" y="33" width="22" height="461" fill="url(#vir)"/>
</g>
<g shape-rendering="crispEdges" fill="#000">
<rect x="37" y="32" width="497" height="1"/><rect x="37" y="31" width="497" height="1" fill-opacity="0.055"/><rect x="37" y="33" width="497" height="1" fill-opacity="0.055"/>
<rect x="37" y="494" width="497" height="1"/><rect x="37" y="493" width="497" height="1" fill-opacity="0.055"/><rect x="37" y="495" width="497" height="1" fill-opacity="0.055"/>
<rect x="37" y="33" width="1" height="461"/><rect x="36" y="33" width="1" height="461" fill-opacity="0.055"/><rect x="38" y="33" width="1" height="461" fill-opacity="0.055"/>
<rect x="533" y="33" width="1" height="461"/><rect x="532" y="33" width="1" height="461" fill-opacity="0.055"/><rect x="534" y="33" width="1" height="461" fill-opacity="0.055"/>
<rect x="564" y="32" width="24" height="1"/><rect x="564" y="31" width="24" height="1" fill-opacity="0.055"/><rect x="564" y="33" width="24" height="1" fill-opacity="0.055"/>
<rect x="564" y="494" width="24" height="1"/><rect x="564" y="493" width="24" height="1" fill-opacity="0.055"/><rect x="564" y="495" width="24" height="1" fill-opacity="0.055"/>
<rect x="564" y="33" width="1" height="461"/><rect x="563" y="33" width="1" height="461" fill-opacity="0.055"/><rect x="565" y="33" width="1" height="461" fill-opacity="0.055"/>
<rect x="587" y="33" width="1" height="461"/><rect x="586" y="33" width="1" height="461" fill-opacity="0.055"/><rect x="588" y="33" width="1" height="461" fill-opacity="0.055"/>
<rect x="37" y="495" width="1" height="5"/><rect x="37" y="500" width="1" height="1" fill-opacity="0.5"/>
<rect x="36" y="495" width="1" height="5" fill-opacity="0.055"/><rect x="38" y="495" width="1" height="5" fill-opacity="0.055"/>
<rect x="133" y="495" width="1" height="5"/><rect x="133" y="500" width="1" height="1" fill-opacity="0.5"/>
<rect x="132" y="495" width="1" height="5" fill-opacity="0.055"/><rect x="134" y="495" width="1" height="5" fill-opacity="0.055"/>
<rect x="228" y="495" width="1" height="5"/><rect x="228" y="500" width="1" height="1" fill-opacity="0.5"/>
<rect x="227" y="495" width="1" height="5" fill-opacity="0.055"/><rect x="229" y="495" width="1" height="5" fill-opacity="0.055"/>
<rect x="324" y="495" width="1" height="5"/><rect x="324" y="500" width="1" height="1" fill-opacity="0.5"/>
<rect x="323" y="495" width="1" height="5" fill-opacity="0.055"/><rect x="325" y="495" width="1" height="5" fill-opacity="0.055"/>
<rect x="419" y="495" width="1" height="5"/><rect x="419" y="500" width="1" height="1" fill-opacity="0.5"/>
<rect x="418" y="495" width="1" height="5" fill-opacity="0.055"/><rect x="420" y="495" width="1" height="5" fill-opacity="0.055"/>
<rect x="514" y="495" width="1" height="5"/><rect x="514" y="500" width="1" height="1" fill-opacity="0.5"/>
<rect x="513" y="495" width="1" height="5" fill-opacity="0.055"/><rect x="515" y="495" width="1" height="5" fill-opacity="0.055"/>
<rect x="33" y="494" width="4" height="1"/><rect x="32" y="494" width="1" height="1" fill-opacity="0.5"/>
<rect x="33" y="493" width="4" height="1" fill-opacity="0.055"/><rect x="33" y="495" width="4" height="1" fill-opacity="0.055"/>
<rect x="33" y="405" width="4" height="1"/><rect x="32" y="405" width="1" height="1" fill-opacity="0.5"/>
<rect x="33" y="404" width="4" height="1" fill-opacity="0.055"/><rect x="33" y="406" width="4" height="1" fill-opacity="0.055"/>
<rect x="33" y="317" width="4" height="1"/><rect x="32" y="317" width="1" height="1" fill-opacity="0.5"/>
<rect x="33" y="316" width="4" height="1" fill-opacity="0.055"/><rect x="33" y="318" width="4" height="1" fill-opacity="0.055"/>
<rect x="33" y="228" width="4" height="1"/><rect x="32" y="228" width="1" height="1" fill-opacity="0.5"/>
<rect x="33" y="227" width="4" height="1" fill-opacity="0.055"/><rect x="33" y="229" width="4" height="1" fill-opacity="0.055"/>
<rect x="33" y="139" width="4" height="1"/><rect x="32" y="139" width="1" height="1" fill-opacity="0.5"/>
<rect x="33" y="138" width="4" height="1" fill-opacity="0.055"/><rect x="33" y="140" width="4" height="1" fill-opacity="0.055"/>
<rect x="33" y="50" width="4" height="1"/><rect x="32" y="50" width="1" height="1" fill-opacity="0.5"/>
<rect x="33" y="49" width="4" height="1" fill-opacity="0.055"/><rect x="33" y="51" width="4" height="1" fill-opacity="0.055"/>
<rect x="588" y="53" width="4" height="1"/><rect x="592" y="53" width="1" height="1" fill-opacity="0.5"/>
<rect x="588" y="52" width="4" height="1" fill-opacity="0.055"/><rect x="588" y="54" width="4" height="1" fill-opacity="0.055"/>
<rect x="588" y="149" width="4" height="1"/><rect x="592" y="149" width="1" height="1" fill-opacity="0.5"/>
<rect x="588" y="148" width="4" height="1" fill-opacity="0.055"/><rect x="588" y="150" width="4" height="1" fill-opacity="0.055"/>
<rect x="588" y="246" width="4" height="1"/><rect x="592" y="246" width="1" height="1" fill-opacity="0.5"/>
<rect x="588" y="245" width="4" height="1" fill-opacity="0.055"/><rect x="588" y="247" width="4" height="1" fill-opacity="0.055"/>
<rect x="588" y="342" width="4" height="1"/><rect x="592" y="342" width="1" height="1" fill-opacity="0.5"/>
<rect x="588" y="341" width="4" height="1" fill-opacity="0.055"/><rect x="588" y="343" width="4" height="1" fill-opacity="0.055"/>
<rect x="588" y="438" width="4" height="1"/><rect x="592" y="438" width="1" height="1" fill-opacity="0.5"/>
<rect x="588" y="437" width="4" height="1" fill-opacity="0.055"/><rect x="588" y="439" width="4" height="1" fill-opacity="0.055"/>
</g>
<g transform="translate(285.85 23.5) scale(0.9985 1.065)"><text x="0" y="0" text-anchor="middle" style="font-size:16.667px">Pairwise Similarity: 'alloy' vs. 'coral' (Residual Embeddings)</text></g>
<g transform="translate(36.75 515) scale(1 1.04)"><text x="0" y="0" text-anchor="middle">0</text></g>
<g transform="translate(132.75 515) scale(1 1.04)"><text x="0" y="0" text-anchor="middle">10</text></g>
<g transform="translate(227.75 515) scale(1 1.04)"><text x="0" y="0" text-anchor="middle">20</text></g>
<g transform="translate(323.75 515) scale(1 1.04)"><text x="0" y="0" text-anchor="middle">30</text></g>
<g transform="translate(418.75 515) scale(1 1.04)"><text x="0" y="0" text-anchor="middle">40</text></g>
<g transform="translate(513.75 515) scale(1 1.04)"><text x="0" y="0" text-anchor="middle">50</text></g>
<text x="27.55" y="500" text-anchor="end">0</text>
<text x="27.55" y="411" text-anchor="end">10</text>
<text x="27.55" y="322" text-anchor="end">20</text>
<text x="27.55" y="233" text-anchor="end">30</text>
<text x="27.55" y="144" text-anchor="end">40</text>
<text x="27.55" y="56" text-anchor="end">50</text>
<text x="596.8" y="59">0.4</text>
<text x="596.8" y="155">0.2</text>
<text x="596.8" y="252">0.0</text>
<text x="596.8" y="348">−0.2</text>
<text x="596.8" y="444">−0.4</text>
</svg>
</body></html>
